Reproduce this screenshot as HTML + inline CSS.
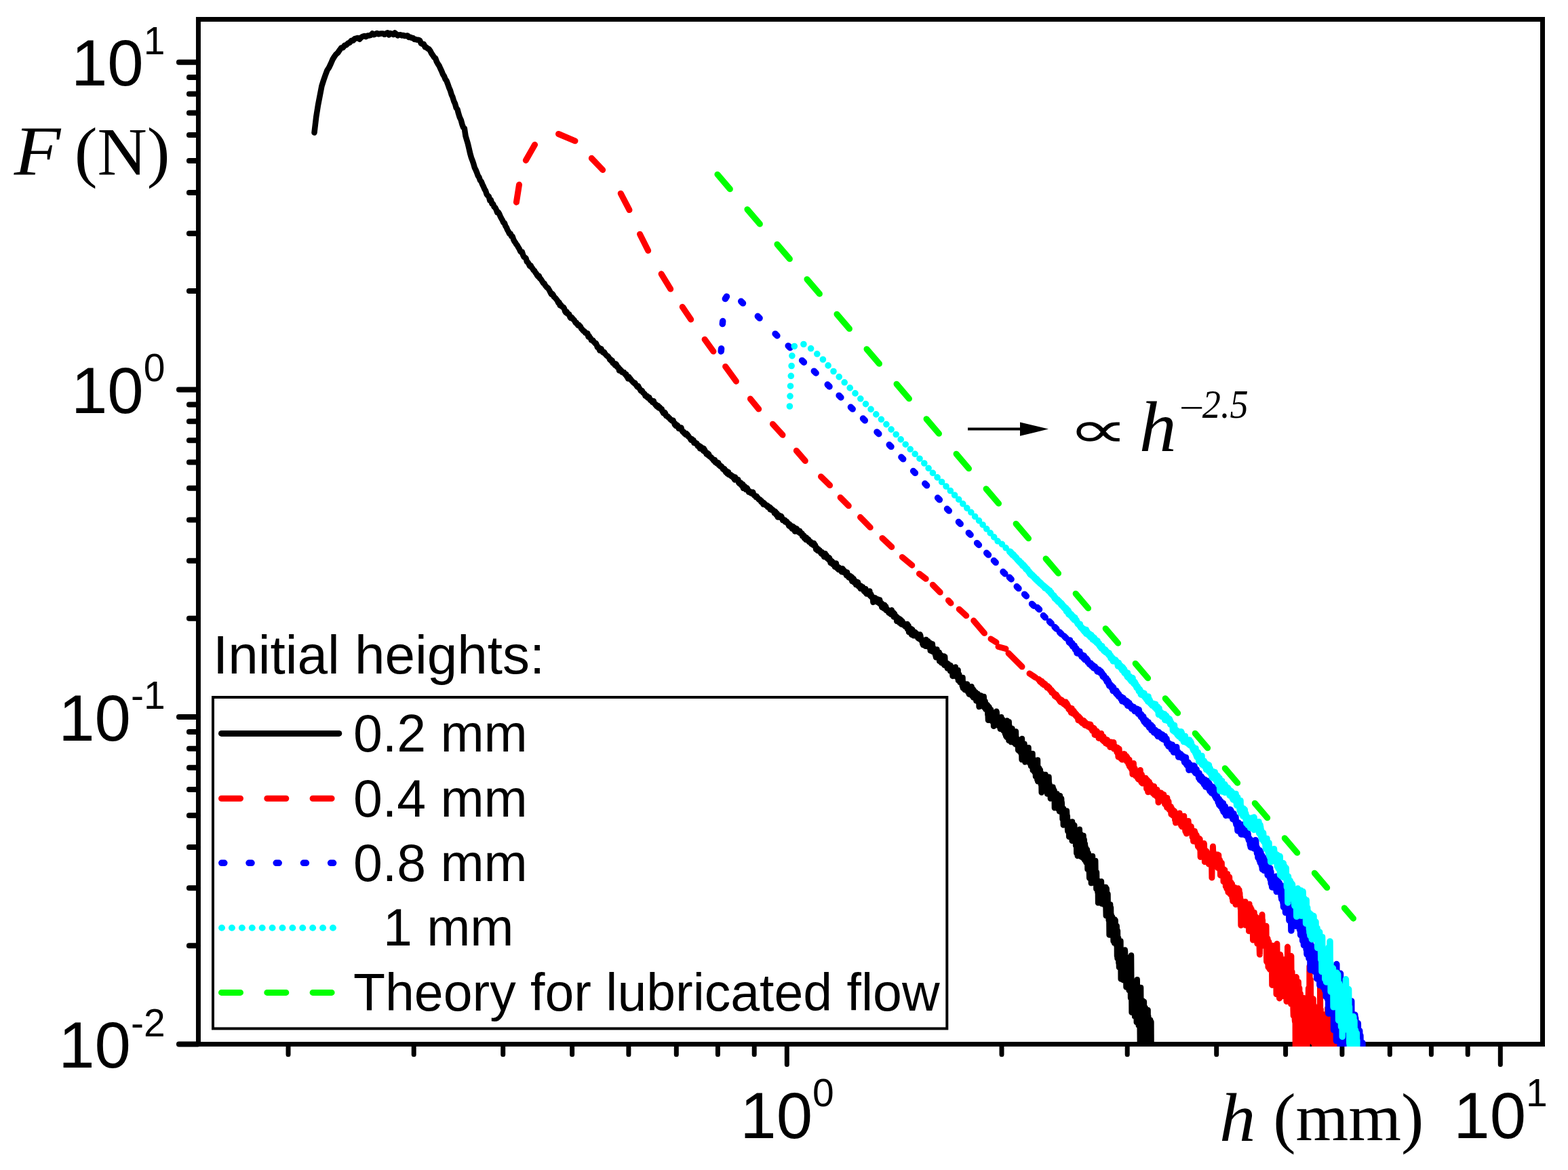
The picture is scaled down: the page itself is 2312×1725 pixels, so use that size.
<!DOCTYPE html>
<html lang="en"><head><meta charset="utf-8"><title>F(h) squeeze flow</title>
<style>html,body{margin:0;padding:0;background:#fff}body{width:2312px;height:1725px;overflow:hidden}svg{display:block}.s{font-family:"Liberation Sans", Arial, sans-serif;fill:#000}.t{font-family:"Liberation Serif", "Times New Roman", serif;fill:#000}.i{font-style:italic}</style></head><body>
<svg width="2312" height="1725" viewBox="0 0 2312 1725">
<rect width="2312" height="1725" fill="#fff"/>
<defs><clipPath id="cp"><rect x="292.45" y="28.5" width="1982.05" height="1514.5"/></clipPath></defs>
<g stroke="#000" stroke-width="7" fill="none" stroke-linecap="round">
<rect x="292.45" y="28.5" width="1982.05" height="1511.0"/>
<line stroke-width="8" x1="291.45" y1="1539.5" x2="263.9" y2="1539.5"/>
<line stroke-width="8" x1="291.45" y1="1394.3" x2="278.9" y2="1394.3"/>
<line stroke-width="8" x1="291.45" y1="1309.3" x2="278.9" y2="1309.3"/>
<line stroke-width="8" x1="291.45" y1="1249.0" x2="278.9" y2="1249.0"/>
<line stroke-width="8" x1="291.45" y1="1202.2" x2="278.9" y2="1202.2"/>
<line stroke-width="8" x1="291.45" y1="1164.0" x2="278.9" y2="1164.0"/>
<line stroke-width="8" x1="291.45" y1="1131.7" x2="278.9" y2="1131.7"/>
<line stroke-width="8" x1="291.45" y1="1103.7" x2="278.9" y2="1103.7"/>
<line stroke-width="8" x1="291.45" y1="1079.1" x2="278.9" y2="1079.1"/>
<line stroke-width="8" x1="291.45" y1="1057.0" x2="263.9" y2="1057.0"/>
<line stroke-width="8" x1="291.45" y1="911.7" x2="278.9" y2="911.7"/>
<line stroke-width="8" x1="291.45" y1="826.7" x2="278.9" y2="826.7"/>
<line stroke-width="8" x1="291.45" y1="766.4" x2="278.9" y2="766.4"/>
<line stroke-width="8" x1="291.45" y1="719.7" x2="278.9" y2="719.7"/>
<line stroke-width="8" x1="291.45" y1="681.5" x2="278.9" y2="681.5"/>
<line stroke-width="8" x1="291.45" y1="649.2" x2="278.9" y2="649.2"/>
<line stroke-width="8" x1="291.45" y1="621.2" x2="278.9" y2="621.2"/>
<line stroke-width="8" x1="291.45" y1="596.5" x2="278.9" y2="596.5"/>
<line stroke-width="8" x1="291.45" y1="574.4" x2="263.9" y2="574.4"/>
<line stroke-width="8" x1="291.45" y1="429.1" x2="278.9" y2="429.1"/>
<line stroke-width="8" x1="291.45" y1="344.2" x2="278.9" y2="344.2"/>
<line stroke-width="8" x1="291.45" y1="283.9" x2="278.9" y2="283.9"/>
<line stroke-width="8" x1="291.45" y1="237.1" x2="278.9" y2="237.1"/>
<line stroke-width="8" x1="291.45" y1="198.9" x2="278.9" y2="198.9"/>
<line stroke-width="8" x1="291.45" y1="166.6" x2="278.9" y2="166.6"/>
<line stroke-width="8" x1="291.45" y1="138.6" x2="278.9" y2="138.6"/>
<line stroke-width="8" x1="291.45" y1="113.9" x2="278.9" y2="113.9"/>
<line stroke-width="8" x1="291.45" y1="91.8" x2="263.9" y2="91.8"/>
<line x1="425.0" y1="1540.5" x2="425.0" y2="1554.7"/>
<line x1="610.2" y1="1540.5" x2="610.2" y2="1554.7"/>
<line x1="741.7" y1="1540.5" x2="741.7" y2="1554.7"/>
<line x1="843.6" y1="1540.5" x2="843.6" y2="1554.7"/>
<line x1="926.9" y1="1540.5" x2="926.9" y2="1554.7"/>
<line x1="997.3" y1="1540.5" x2="997.3" y2="1554.7"/>
<line x1="1058.4" y1="1540.5" x2="1058.4" y2="1554.7"/>
<line x1="1112.2" y1="1540.5" x2="1112.2" y2="1554.7"/>
<line x1="1160.3" y1="1540.5" x2="1160.3" y2="1569.6"/>
<line x1="1477.0" y1="1540.5" x2="1477.0" y2="1554.7"/>
<line x1="1662.2" y1="1540.5" x2="1662.2" y2="1554.7"/>
<line x1="1793.7" y1="1540.5" x2="1793.7" y2="1554.7"/>
<line x1="1895.6" y1="1540.5" x2="1895.6" y2="1554.7"/>
<line x1="1978.9" y1="1540.5" x2="1978.9" y2="1554.7"/>
<line x1="2049.3" y1="1540.5" x2="2049.3" y2="1554.7"/>
<line x1="2110.4" y1="1540.5" x2="2110.4" y2="1554.7"/>
<line x1="2164.2" y1="1540.5" x2="2164.2" y2="1554.7"/>
<line x1="2212.3" y1="1540.5" x2="2212.3" y2="1569.6"/>
</g>
<g clip-path="url(#cp)" fill="none" stroke-linecap="round" stroke-linejoin="round">
<polyline stroke="#000" stroke-width="8.5" points="463.5,195.6 466.3,171.8 469.0,154.9 471.7,140.9 474.4,126.9 477.1,118.4 479.8,110.7 482.5,103.5 485.1,99.6 487.7,94.1 490.4,87.8 493.0,83.5 495.5,80.1 498.1,77.8 500.7,73.9 503.2,70.5 505.7,70.2 508.2,66.9 510.7,66.3 513.2,63.8 515.7,62.8 518.2,59.8 520.6,59.8 523.0,57.2 525.5,56.5 527.9,56.0 530.3,57.7 532.7,55.0 535.0,53.8 537.4,53.0 539.7,54.1 542.1,52.4 544.4,52.4 546.7,51.8 549.0,49.5 551.3,51.2 553.6,50.1 555.8,49.0 558.1,50.3 560.3,49.7 562.5,49.4 564.8,49.4 567.0,50.8 569.2,49.5 571.4,48.3 573.5,51.5 575.7,49.1 577.9,50.0 580.0,51.0 582.1,48.5 584.3,50.1 586.4,52.4 588.5,51.4 590.6,51.3 592.7,52.4 594.8,51.9 596.8,53.1 598.9,52.8 600.9,52.4 603.0,55.1 605.0,54.7 607.0,55.9 609.0,55.9 611.1,58.0 613.0,58.1 615.0,58.7 617.0,58.7 619.0,59.8 620.9,63.9 622.9,64.9 624.8,65.1 626.8,69.6 628.7,69.8 630.6,71.5 632.5,72.3 634.5,75.2 636.3,78.8 638.2,81.5 640.1,84.4 642.0,85.7 643.9,91.0 645.7,94.3 647.6,97.0 649.4,101.1 651.2,104.9 653.1,109.6 654.9,112.4 656.7,116.8 658.5,119.3 660.3,124.1 662.1,129.2 663.9,133.2 665.7,139.4 667.4,143.1 669.2,149.1 671.0,152.9 672.7,159.0 674.5,161.3 676.2,167.8 677.9,173.2 679.7,176.8 681.4,183.2 683.1,187.9 684.8,189.1 686.5,200.5 688.2,206.3 689.9,212.0 691.5,218.8 693.2,226.3 694.9,232.2 696.5,236.4 698.2,241.3 699.9,247.4 701.5,250.5 703.1,254.3 704.8,259.2 706.4,261.3 708.0,266.0 709.6,267.5 711.2,271.6 712.8,274.9 714.4,278.7 716.0,281.3 717.6,286.3 719.2,288.4 720.8,289.8 722.3,295.4 723.9,295.1 725.5,300.6 727.0,300.7 728.6,305.1 730.1,305.9 731.7,309.1 733.2,313.3 734.7,312.9 736.2,315.2 737.8,319.3 739.3,322.1 740.8,324.6 742.3,328.2 743.8,328.7 745.3,333.2 746.8,335.4 748.2,338.9 749.7,341.4 751.2,344.6 752.7,344.4 754.1,348.3 755.6,348.5 757.0,352.8 758.5,355.9 759.9,357.7 761.4,360.3 762.8,361.9 764.2,364.6 765.7,366.8 767.1,370.2 768.5,371.9 769.9,371.6 771.3,376.3 772.7,379.0 774.1,379.7 775.5,380.8 776.9,385.9 778.3,386.7 779.7,389.1 781.1,392.2 782.5,391.4 783.8,394.1 785.2,395.7 786.6,398.4 787.9,398.9 789.3,401.7 790.6,403.0 792.0,405.8 793.3,407.6 794.7,406.7 796.0,410.4 797.3,411.3 798.7,413.4 800.0,415.6 801.3,417.5 802.6,418.0 803.9,420.8 805.2,422.3 806.6,423.9 807.9,424.4 809.2,426.6 810.4,428.6 811.7,431.3 813.0,433.9 814.3,433.1 815.6,434.8 816.9,437.7 818.1,438.6 819.4,440.0 820.7,441.6 821.9,443.2 823.2,446.2 824.4,445.7 825.7,450.2 826.9,449.5 828.2,451.4 829.4,452.5 830.7,452.8 831.9,454.7 833.1,458.9 834.4,460.8 835.6,459.5 836.8,462.8 838.0,463.0 839.2,463.4 840.4,467.4 841.7,469.1 842.9,467.8 844.1,469.3 845.3,470.9 846.5,471.8 847.7,474.0 848.8,476.0 850.0,475.8 851.2,477.9 852.4,479.9 853.6,478.9 854.7,480.8 855.9,481.6 857.1,484.4 858.2,485.3 859.4,487.0 860.6,488.2 861.7,488.3 862.9,490.7 864.0,490.8 865.2,492.1 866.3,491.6 867.5,496.5 868.6,495.3 869.7,497.6 870.9,498.8 872.0,501.6 873.1,501.8 874.3,501.7 875.4,503.8 876.5,504.8 877.6,506.4 878.7,506.0 879.8,508.5 880.9,512.0 882.1,511.6 883.2,514.1 884.3,516.7 885.4,514.9 886.4,514.1 887.5,516.6 888.6,519.1 889.7,520.0 890.8,519.0 891.9,521.2 893.0,522.5 894.0,523.7 895.1,524.8 896.2,525.1 897.3,526.5 898.3,528.0 899.4,530.5 900.5,530.0 901.5,532.4 902.6,531.5 903.6,535.2 904.7,535.1 905.7,536.0 906.8,538.5 907.8,536.3 908.9,537.6 909.9,540.8 910.9,540.5 912.0,542.0 913.0,546.3 914.0,544.2 915.1,545.6 916.1,546.4 917.1,548.7 918.1,548.9 919.2,549.8 920.2,549.3 921.2,551.2 922.2,552.5 923.2,551.8 924.2,555.1 925.2,555.9 926.2,558.4 927.2,555.6 928.2,557.2 929.2,558.2 930.2,559.5 931.2,561.0 932.2,561.9 933.2,563.3 934.2,564.2 935.2,564.9 936.1,564.3 937.1,566.3 938.1,568.0 939.1,569.5 940.1,570.6 941.0,569.1 942.0,571.4 943.0,572.9 943.9,574.3 944.9,576.2 945.9,576.1 946.8,576.0 947.8,578.5 948.7,579.3 949.7,580.3 950.6,580.9 951.6,583.8 952.5,583.3 953.5,584.9 954.4,584.0 955.4,586.7 956.3,586.1 957.2,586.0 958.2,588.9 959.1,590.1 960.0,590.0 961.0,591.0 961.9,593.0 962.8,592.2 963.7,591.3 964.7,594.6 965.6,595.4 966.5,597.1 967.4,596.5 968.3,599.1 969.3,599.8 970.2,598.0 971.1,601.3 972.0,600.0 972.9,600.5 973.8,602.8 974.7,603.4 975.6,602.8 976.5,606.2 977.4,607.5 978.3,609.3 979.2,608.7 980.1,608.0 981.0,609.5 981.9,612.6 982.7,613.4 983.6,613.9 984.5,613.8 985.4,615.3 986.3,615.7 987.1,616.4 988.0,618.0 988.9,618.5 989.8,619.1 990.6,620.3 991.5,620.4 992.4,619.7 993.2,622.0 994.1,623.4 995.0,626.3 995.8,624.7 996.7,628.2 997.6,628.4 998.4,626.6 999.3,627.6 1000.1,629.4 1001.0,632.0 1001.8,631.3 1002.7,632.4 1003.5,631.7 1004.4,630.6 1005.2,633.8 1006.1,635.7 1006.9,636.9 1007.7,636.4 1008.6,637.4 1009.4,639.3 1010.2,638.6 1011.1,640.9 1011.9,639.0 1012.7,639.9 1013.6,640.6 1014.4,643.2 1015.2,642.8 1016.0,644.4 1016.9,645.4 1017.7,646.1 1018.5,648.0 1019.3,649.0 1020.1,647.1 1021.0,649.0 1021.8,649.3 1022.6,649.2 1023.4,653.1 1024.2,652.8 1025.0,652.4 1025.8,652.9 1026.6,654.6 1027.4,653.7 1028.2,655.4 1029.0,657.8 1029.8,658.2 1030.6,656.9 1031.4,658.0 1032.2,661.5 1033.0,658.4 1033.8,659.2 1034.6,659.8 1035.4,662.5 1036.2,663.1 1037.0,664.8 1037.8,661.1 1038.5,665.0 1039.3,663.6 1040.1,667.0 1040.9,666.7 1041.7,669.6 1042.4,668.8 1043.2,667.9 1044.0,671.2 1044.8,669.2 1045.5,670.8 1046.3,673.1 1047.1,673.2 1047.8,673.9 1048.6,674.1 1049.4,675.4 1050.1,676.5 1050.9,676.6 1051.7,678.2 1052.4,679.3 1053.2,678.5 1054.0,678.1 1054.7,681.8 1055.5,680.6 1056.2,682.1 1057.0,683.2 1057.7,681.7 1058.5,684.1 1059.2,682.3 1060.0,685.8 1060.7,685.1 1061.5,686.5 1062.2,687.8 1063.0,686.9 1063.7,688.5 1064.4,688.2 1065.2,689.7 1065.9,691.6 1066.7,691.1 1067.4,691.6 1068.1,691.2 1068.9,694.1 1069.6,693.7 1070.3,696.4 1071.1,694.2 1071.8,696.9 1072.5,698.5 1073.2,696.9 1074.0,696.1 1074.7,699.9 1075.4,700.0 1076.1,700.2 1076.9,701.2 1077.6,699.9 1078.3,702.0 1079.0,702.5 1079.7,701.4 1080.5,703.7 1081.2,702.8 1081.9,705.1 1082.6,706.0 1083.3,707.4 1084.0,703.4 1084.7,706.7 1085.4,706.6 1086.1,707.5 1086.8,707.9 1087.5,708.6 1088.3,707.0 1089.0,711.2 1089.7,712.5 1090.4,712.5 1091.1,713.5 1091.8,711.5 1092.5,712.1 1093.1,715.0 1093.8,716.1 1094.5,715.5 1095.2,713.9 1095.9,719.8 1096.6,716.2 1097.3,718.9 1098.0,716.8 1098.7,720.1 1099.4,719.6 1100.0,721.8 1100.7,721.7 1101.4,719.3 1102.1,720.5 1102.8,722.6 1103.5,723.8 1104.1,725.6 1104.8,724.2 1105.5,724.4 1106.2,724.9 1106.8,725.5 1107.5,727.3 1108.2,726.5 1108.9,727.0 1109.5,725.8 1110.2,725.6 1110.9,728.7 1111.6,730.0 1112.2,729.7 1112.9,730.9 1113.6,731.6 1114.2,731.3 1114.9,733.2 1115.5,731.6 1116.2,733.1 1116.9,733.2 1117.5,734.3 1118.2,735.6 1118.8,736.5 1119.5,736.1 1120.2,737.1 1120.8,736.6 1121.5,737.5 1122.1,739.8 1122.8,738.5 1123.4,740.9 1124.1,740.5 1124.7,740.6 1125.4,743.5 1126.0,741.1 1126.7,741.6 1127.3,742.5 1128.0,743.4 1128.6,743.8 1129.2,745.1 1129.9,744.7 1130.5,745.6 1131.2,745.2 1131.8,747.5 1132.4,746.1 1133.1,746.7 1133.7,747.6 1134.4,748.5 1135.0,747.7 1135.6,751.2 1136.3,748.9 1136.9,749.8 1137.5,750.3 1138.2,750.7 1138.8,752.6 1139.4,752.7 1140.0,752.1 1140.7,752.9 1141.3,753.8 1141.9,756.7 1142.5,754.5 1143.2,754.2 1143.8,755.0 1144.4,756.6 1145.0,759.6 1145.7,756.8 1146.3,758.8 1146.9,762.6 1147.5,759.2 1148.1,762.3 1148.7,762.5 1149.4,762.2 1150.0,760.1 1150.6,762.8 1151.2,762.5 1151.8,761.0 1152.4,761.7 1153.0,764.6 1153.6,765.3 1154.2,767.2 1154.9,766.9 1155.5,765.9 1156.1,766.5 1156.7,767.4 1157.3,766.7 1157.9,769.6 1158.5,769.1 1159.1,768.6 1159.7,769.3 1160.3,769.1 1160.9,770.5 1161.5,772.0 1162.1,771.5 1162.7,773.9 1163.3,775.3 1163.9,772.6 1164.5,773.9 1165.1,773.9 1165.7,777.1 1166.3,775.7 1166.9,776.5 1167.4,777.3 1168.0,779.7 1168.6,777.4 1169.2,776.1 1169.8,777.3 1170.4,779.1 1171.0,778.8 1171.6,778.1 1172.1,783.6 1172.7,780.5 1173.3,779.9 1173.9,780.1 1174.5,779.2 1175.1,780.4 1175.6,782.1 1176.2,782.6 1176.8,782.4 1177.4,784.7 1178.0,784.5 1178.5,783.7 1179.1,782.7 1179.7,786.2 1180.3,786.5 1180.8,786.7 1181.4,785.5 1182.0,788.0 1182.6,786.4 1183.1,790.4 1183.7,789.7 1184.3,790.3 1184.8,789.3 1185.4,789.5 1186.0,793.7 1186.5,793.3 1187.1,792.0 1187.7,793.9 1188.2,795.7 1188.8,792.4 1189.4,793.7 1189.9,794.2 1190.5,796.1 1191.1,794.4 1191.6,796.7 1192.2,795.3 1192.7,798.7 1193.3,799.1 1193.9,798.1 1194.4,799.9 1195.0,798.4 1195.5,799.5 1196.1,801.8 1196.6,800.8 1197.2,801.9 1197.7,800.6 1198.3,803.4 1198.8,803.6 1199.4,801.7 1199.9,800.7 1200.5,801.5 1201.0,804.9 1201.6,805.2 1202.1,803.8 1202.7,806.8 1203.2,810.1 1203.8,807.5 1204.3,807.6 1204.9,810.0 1205.4,811.8 1206.0,812.1 1206.5,809.4 1207.0,812.1 1207.6,811.7 1208.1,811.7 1208.7,811.6 1209.2,813.6 1209.8,812.8 1210.3,815.5 1210.8,815.1 1211.4,816.7 1211.9,813.9 1212.4,816.1 1213.0,817.7 1213.5,817.6 1214.0,817.9 1214.6,817.0 1215.1,821.0 1215.6,820.6 1216.2,820.1 1216.7,816.1 1217.2,819.0 1217.8,821.1 1218.3,820.3 1218.8,818.7 1219.3,822.7 1219.9,823.4 1220.4,821.4 1220.9,823.0 1221.5,823.1 1222.0,825.4 1222.5,822.1 1223.0,822.8 1223.5,825.0 1224.1,825.3 1224.6,830.0 1225.1,826.2 1225.6,827.9 1226.2,827.4 1226.7,827.4 1227.2,829.4 1227.7,832.0 1228.2,829.2 1228.7,831.4 1229.3,831.2 1229.8,832.0 1230.3,832.1 1230.8,835.7 1231.3,830.5 1231.8,832.4 1232.3,831.5 1232.9,830.6 1233.4,834.1 1233.9,837.5 1234.4,836.4 1234.9,837.4 1235.4,836.6 1235.9,836.1 1236.4,839.9 1236.9,836.5 1237.4,839.9 1238.0,837.4 1238.5,838.5 1239.0,839.2 1239.5,839.2 1240.0,840.4 1240.5,841.0 1241.0,843.2 1241.5,840.8 1242.0,838.2 1242.5,838.4 1243.0,839.9 1243.5,841.3 1244.0,844.0 1244.5,841.0 1245.0,843.9 1245.5,844.3 1246.0,845.1 1246.5,845.0 1247.0,846.3 1247.5,846.1 1248.0,848.3 1248.5,847.5 1249.0,843.6 1249.5,847.9 1250.0,848.6 1250.4,847.8 1250.9,847.9 1251.4,851.4 1251.9,850.3 1252.4,848.8 1252.9,850.3 1253.4,851.0 1253.9,849.0 1254.4,853.2 1254.9,852.3 1255.3,853.7 1255.8,850.7 1256.3,856.9 1256.8,855.1 1257.3,855.3 1257.8,853.6 1258.3,854.1 1258.7,853.2 1259.2,858.7 1259.7,855.1 1260.2,857.3 1260.7,858.4 1261.2,856.7 1261.6,859.7 1262.1,862.1 1262.6,859.6 1263.1,862.0 1263.6,860.9 1264.0,859.6 1264.5,860.1 1265.0,858.3 1265.5,861.9 1265.9,864.6 1266.4,863.7 1266.9,864.4 1267.4,865.4 1267.9,862.9 1268.3,865.2 1268.8,868.0 1269.3,863.7 1269.7,865.5 1270.2,865.1 1270.7,866.0 1271.2,865.5 1271.6,867.0 1272.1,865.3 1272.6,867.1 1273.0,867.6 1273.5,867.3 1274.0,871.8 1274.4,869.9 1274.9,870.5 1275.4,870.0 1275.8,873.3 1276.3,868.3 1276.8,871.4 1277.2,874.2 1277.7,875.5 1278.2,873.3 1278.6,873.3 1279.1,874.8 1279.6,873.7 1280.0,875.4 1280.5,873.6 1280.9,876.3 1281.4,875.4 1281.9,873.9 1282.3,871.4 1282.8,878.3 1283.2,877.6 1283.7,878.7 1284.2,876.1 1284.6,880.0 1285.1,879.1 1285.5,878.6 1286.0,880.8 1286.4,881.1 1286.9,880.6 1287.4,888.0 1287.8,883.2 1288.3,881.6 1288.7,881.0 1289.2,882.0 1289.6,885.4 1290.1,883.4 1290.5,881.4 1291.0,882.3 1291.4,883.9 1291.9,885.9 1292.3,883.4 1292.8,886.1 1293.2,887.7 1293.7,887.4 1294.1,883.6 1294.6,886.3 1295.0,884.9 1295.5,888.5 1295.9,886.2 1296.4,889.5 1296.8,889.1 1297.2,884.5 1297.7,888.1 1298.1,890.9 1298.6,890.5 1299.0,890.2 1299.5,888.9 1299.9,892.6 1300.3,895.4 1300.8,893.0 1301.2,892.9 1301.7,893.1 1302.1,891.2 1302.6,893.6 1303.0,893.1 1303.4,897.3 1303.9,893.8 1304.3,891.9 1304.7,894.9 1305.2,896.3 1305.6,896.9 1306.1,894.1 1306.5,899.9 1306.9,898.7 1307.4,897.9 1307.8,897.7 1308.2,900.4 1308.7,899.2 1309.1,900.8 1309.5,900.3 1310.0,901.1 1310.4,903.5 1310.8,901.5 1311.3,900.0 1311.7,904.1 1312.1,902.9 1312.6,901.3 1313.0,905.2 1313.4,902.9 1313.8,905.8 1314.3,901.6 1314.7,899.5 1315.1,900.4 1315.6,905.4 1316.0,903.7 1316.4,905.4 1316.8,905.8 1317.3,903.1 1317.7,909.6 1318.1,904.9 1318.5,907.6 1319.0,904.9 1319.4,907.9 1319.8,910.2 1320.2,908.5 1320.7,908.0 1321.1,909.9 1321.5,909.3 1321.9,912.0 1322.3,916.0 1322.8,909.7 1323.2,910.6 1323.6,912.2 1324.0,912.8 1324.4,911.1 1324.9,914.8 1325.3,915.8 1325.7,915.0 1326.1,912.3 1326.5,918.5 1327.0,913.1 1327.4,917.6 1327.8,919.0 1328.2,913.9 1328.6,917.4 1329.0,920.5 1329.4,918.6 1329.9,916.0 1330.3,915.7 1330.7,919.8 1331.1,918.2 1331.5,917.8 1331.9,921.3 1332.3,919.4 1332.7,920.6 1333.2,922.2 1333.6,922.5 1334.0,921.6 1334.4,922.1 1334.8,923.9 1335.2,924.0 1335.6,920.7 1336.0,923.3 1336.4,922.1 1336.8,921.7 1337.3,923.6 1337.7,919.9 1338.1,927.7 1338.5,924.1 1338.9,927.2 1339.3,922.2 1339.7,922.9 1340.1,932.2 1340.5,930.0 1340.9,926.2 1341.3,926.2 1341.7,926.6 1342.1,929.0 1342.5,927.8 1342.9,927.6 1343.3,929.7 1343.7,927.2 1344.1,935.8 1344.5,928.8 1344.9,933.4 1345.3,928.6 1345.7,932.0 1346.1,934.0 1346.5,931.2 1346.9,937.2 1347.3,935.2 1347.7,937.3 1348.1,933.7 1348.5,932.8 1348.9,931.8 1349.3,935.2 1349.7,932.5 1350.1,935.5 1350.5,936.1 1350.9,934.7 1351.3,933.8 1351.7,937.8 1352.1,937.8 1352.5,937.9 1352.9,937.6 1353.3,940.5 1353.7,935.7 1354.1,939.8 1354.4,937.8 1354.8,941.6 1355.2,938.8 1355.6,939.0 1356.0,941.6 1356.4,935.4 1356.8,940.2 1357.2,936.8 1357.6,939.3 1358.0,944.1 1358.4,943.7 1358.7,941.8 1359.1,943.2 1359.5,943.5 1359.9,944.7 1360.3,949.3 1360.7,945.1 1361.1,951.0 1361.5,943.9 1361.8,947.2 1362.2,947.4 1362.6,946.3 1363.0,945.1 1363.4,950.2 1363.8,951.4 1364.2,949.7 1364.5,952.8 1364.9,950.0 1365.3,943.1 1365.7,951.0 1366.1,946.4 1366.5,952.6 1366.8,948.1 1367.2,950.2 1367.6,949.8 1368.0,948.3 1368.4,945.3 1368.7,950.1 1369.1,950.6 1369.5,954.2 1369.9,950.0 1370.3,952.8 1370.6,950.0 1371.0,952.9 1371.4,948.0 1371.8,959.5 1372.2,954.8 1372.5,951.7 1372.9,955.8 1373.3,957.5 1373.7,956.4 1374.0,960.2 1374.4,956.0 1374.8,949.5 1375.2,953.8 1375.5,961.1 1375.9,960.7 1376.3,959.7 1376.7,955.7 1377.0,961.8 1377.4,961.7 1377.8,957.2 1378.2,957.6 1378.5,961.9 1378.9,964.6 1379.3,966.3 1379.6,964.0 1380.0,969.3 1380.4,960.1 1380.8,964.8 1381.1,961.6 1381.5,957.6 1381.9,960.1 1382.2,967.9 1382.6,961.7 1383.0,961.2 1383.3,967.6 1383.7,968.7 1384.1,966.3 1384.4,971.6 1384.8,961.9 1385.2,975.0 1385.5,971.0 1385.9,968.6 1386.3,968.9 1386.6,967.9 1387.0,968.0 1387.4,970.0 1387.7,965.9 1388.1,977.4 1388.5,970.5 1388.8,973.4 1389.2,971.0 1389.6,971.2 1389.9,975.5 1390.3,975.1 1390.7,970.7 1391.0,972.7 1391.4,976.7 1391.7,968.0 1392.1,967.6 1392.5,981.0 1392.8,975.4 1393.2,968.4 1393.5,974.6 1393.9,977.0 1394.3,978.9 1394.6,980.5 1395.0,979.8 1395.3,981.4 1395.7,977.3 1396.1,983.1 1396.4,982.2 1396.8,985.3 1397.1,981.6 1397.5,985.0 1397.8,982.8 1398.2,978.9 1398.6,981.7 1398.9,981.6 1399.3,982.5 1399.6,983.9 1400.0,984.9 1400.3,985.9 1400.7,982.5 1401.0,989.4 1401.4,981.1 1401.8,986.1 1402.1,989.2 1402.5,988.6 1402.8,989.5 1403.2,986.8 1403.5,990.3 1403.9,983.9 1404.2,991.0 1404.6,996.9 1404.9,991.4 1405.3,996.5 1405.6,989.5 1406.0,985.8 1406.3,987.6 1406.7,995.2 1407.0,993.4 1407.4,984.5 1407.7,990.1 1408.1,991.5 1408.4,988.1 1408.8,983.4 1409.1,987.9 1409.5,992.4 1409.8,992.0 1410.2,991.4 1410.5,996.3 1410.9,998.4 1411.2,994.7 1411.6,998.8 1411.9,995.9 1412.2,995.7 1412.6,987.9 1412.9,1003.2 1413.3,997.6 1413.6,998.2 1414.0,996.3 1414.3,994.5 1414.7,1000.6 1415.0,1002.3 1415.3,1005.9 1415.7,1003.5 1416.0,998.4 1416.4,1000.7 1416.7,1005.2 1417.1,1003.2 1417.4,1002.1 1417.7,1000.8 1418.1,1005.5 1418.4,1004.7 1418.8,1011.4 1419.1,1009.3 1419.5,999.1 1419.8,1014.5 1420.1,1007.6 1420.5,1006.0 1420.8,1008.8 1421.2,1011.0 1421.5,1008.5 1421.8,1008.8 1422.2,1009.6 1422.5,1017.2 1422.8,1010.7 1423.2,1014.0 1423.5,1013.2 1423.9,1010.5 1424.2,1009.3 1424.5,1008.7 1424.9,1014.6 1425.2,1009.3 1425.5,1008.7 1425.9,1009.2 1426.2,1008.6 1426.5,1015.0 1426.9,1015.5 1427.2,1011.8 1427.5,1021.0 1427.9,1014.9 1428.2,1018.2 1428.6,1017.8 1428.9,1023.7 1429.2,1020.4 1429.6,1017.1 1429.9,1013.6 1430.2,1013.4 1430.5,1018.0 1430.9,1018.7 1431.2,1021.6 1431.5,1016.8 1431.9,1019.7 1432.2,1016.5 1432.5,1012.2 1432.9,1019.7 1433.2,1026.1 1433.5,1023.8 1433.9,1026.7 1434.2,1026.0 1434.5,1016.0 1434.8,1020.8 1435.2,1028.5 1435.5,1019.8 1435.8,1017.8 1436.2,1024.8 1436.5,1026.6 1436.8,1025.5 1437.1,1023.3 1437.5,1022.2 1437.8,1020.3 1438.1,1020.6 1438.5,1021.0 1438.8,1020.6 1439.1,1023.8 1439.4,1033.5 1439.8,1027.8 1440.1,1026.3 1440.4,1029.5 1440.7,1024.4 1441.1,1030.1 1441.4,1032.8 1441.7,1023.1 1442.0,1026.7 1442.4,1028.9 1442.7,1026.3 1443.0,1026.0 1443.3,1029.4 1443.6,1042.1 1444.0,1034.6 1444.3,1034.0 1444.6,1036.7 1444.9,1031.9 1445.3,1028.0 1445.6,1035.6 1445.9,1038.9 1446.2,1025.6 1446.5,1036.6 1446.9,1040.4 1447.2,1034.3 1447.5,1033.8 1447.8,1039.2 1448.1,1033.0 1448.5,1041.1 1448.8,1041.2 1449.1,1036.7 1449.4,1034.5 1449.7,1041.0 1450.1,1037.1 1450.4,1039.4 1450.7,1027.1 1451.0,1042.9 1451.3,1034.1 1451.6,1040.8 1452.0,1041.5 1452.3,1038.2 1452.6,1033.9 1452.9,1036.6 1453.2,1041.2 1453.5,1045.9 1453.9,1046.0 1454.2,1041.7 1454.5,1041.8 1454.8,1038.6 1455.1,1043.5 1455.4,1041.0 1455.8,1039.4 1456.1,1046.0 1456.4,1054.2 1456.7,1053.2 1457.0,1061.9 1457.3,1041.4 1457.6,1053.1 1457.9,1044.0 1458.3,1047.4 1458.6,1042.7 1458.9,1046.4 1459.2,1052.0 1459.5,1052.9 1459.8,1051.9 1460.1,1051.9 1460.4,1055.7 1460.8,1053.7 1461.1,1046.4 1461.4,1062.5 1461.7,1053.4 1462.0,1059.3 1462.3,1054.4 1462.6,1051.6 1462.9,1056.2 1463.2,1052.6 1463.5,1064.3 1463.9,1051.6 1464.2,1060.0 1464.5,1054.5 1464.8,1056.8 1465.1,1070.8 1465.4,1062.0 1465.7,1057.5 1466.0,1051.5 1466.3,1057.7 1466.6,1058.2 1466.9,1066.6 1467.2,1053.1 1467.5,1051.6 1467.9,1060.4 1468.2,1061.8 1468.5,1069.1 1468.8,1057.1 1469.1,1048.8 1469.4,1058.4 1469.7,1050.1 1470.0,1059.8 1470.3,1067.5 1470.6,1056.4 1470.9,1069.2 1471.2,1064.3 1471.5,1062.1 1471.8,1059.3 1472.1,1061.7 1472.4,1062.0 1472.7,1067.9 1473.0,1070.7 1473.3,1064.1 1473.6,1068.1 1473.9,1071.3 1474.2,1071.3 1474.5,1067.6 1474.8,1074.8 1475.1,1072.5 1475.4,1074.2 1475.7,1065.4 1476.0,1064.6 1476.3,1057.2 1476.6,1074.9 1476.9,1071.1 1477.2,1063.5 1477.5,1069.5 1477.8,1070.4 1478.1,1060.7 1478.4,1071.1 1478.7,1075.7 1479.0,1076.8 1479.3,1068.7 1479.6,1069.1 1479.9,1078.0 1480.2,1076.3 1480.5,1068.8 1480.8,1068.8 1481.1,1075.3 1481.4,1069.2 1481.7,1069.7 1482.0,1082.2 1482.3,1074.8 1482.6,1071.4 1482.9,1076.7 1483.2,1085.4 1483.5,1075.9 1483.8,1070.9 1484.1,1067.0 1484.4,1087.0 1484.7,1062.5 1485.0,1081.9 1485.3,1071.3 1485.6,1070.2 1485.9,1071.8 1486.2,1076.3 1486.5,1083.5 1486.8,1074.4 1487.1,1081.7 1487.4,1091.9 1487.7,1064.2 1488.0,1075.2 1488.3,1069.8 1488.6,1084.3 1488.9,1072.2 1489.2,1071.9 1489.5,1072.5 1489.8,1081.0 1490.1,1087.7 1490.4,1082.6 1490.7,1094.1 1491.0,1091.7 1491.3,1082.3 1491.6,1088.6 1491.9,1084.5 1492.2,1084.6 1492.5,1074.3 1492.8,1077.9 1493.1,1085.4 1493.4,1079.2 1493.7,1090.2 1494.0,1088.2 1494.3,1081.9 1494.6,1094.0 1494.9,1089.1 1495.2,1095.3 1495.5,1087.7 1495.8,1080.0 1496.1,1093.2 1496.4,1088.2 1496.7,1094.8 1497.0,1096.6 1497.3,1097.5 1497.6,1083.0 1497.9,1078.6 1498.2,1089.0 1498.5,1096.1 1498.8,1088.6 1499.1,1094.8 1499.4,1088.9 1499.7,1092.2 1500.0,1092.7 1500.3,1091.4 1500.6,1098.5 1500.9,1098.0 1501.2,1106.2 1501.5,1099.3 1501.8,1105.5 1502.1,1098.6 1502.4,1103.8 1502.7,1098.2 1503.0,1096.6 1503.3,1107.9 1503.6,1104.7 1503.9,1105.9 1504.2,1096.5 1504.5,1091.6 1504.8,1096.6 1505.1,1103.8 1505.4,1093.8 1505.7,1111.3 1506.0,1094.3 1506.3,1106.9 1506.6,1120.1 1506.9,1089.0 1507.2,1095.3 1507.5,1110.7 1507.8,1104.1 1508.1,1106.8 1508.4,1105.5 1508.7,1115.4 1509.0,1111.2 1509.3,1105.0 1509.6,1107.0 1509.9,1102.0 1510.2,1109.1 1510.5,1096.7 1510.8,1115.0 1511.1,1109.8 1511.4,1123.6 1511.7,1120.1 1512.0,1105.2 1512.3,1119.2 1512.6,1110.8 1512.9,1114.8 1513.2,1121.2 1513.5,1117.3 1513.8,1118.7 1514.1,1118.8 1514.4,1111.7 1514.7,1112.5 1515.0,1120.2 1515.3,1122.5 1515.6,1115.4 1515.9,1117.9 1516.2,1111.4 1516.5,1102.2 1516.8,1112.9 1517.1,1118.3 1517.4,1119.4 1517.7,1123.9 1518.0,1124.5 1518.3,1125.4 1518.6,1122.0 1518.9,1122.6 1519.2,1116.0 1519.5,1123.4 1519.8,1122.7 1520.1,1129.7 1520.4,1112.8 1520.7,1120.2 1521.0,1113.2 1521.3,1119.8 1521.6,1116.3 1521.9,1127.6 1522.2,1122.2 1522.5,1111.1 1522.8,1135.8 1523.1,1121.3 1523.4,1118.8 1523.7,1127.2 1524.0,1125.6 1524.3,1123.0 1524.6,1135.8 1524.9,1129.4 1525.2,1138.3 1525.5,1137.6 1525.8,1137.7 1526.1,1135.0 1526.4,1133.6 1526.7,1132.0 1527.0,1144.9 1527.3,1123.1 1527.6,1128.7 1527.9,1131.8 1528.2,1139.3 1528.5,1137.9 1528.8,1134.0 1529.1,1135.3 1529.4,1149.8 1529.7,1133.8 1530.0,1120.4 1530.3,1152.1 1530.6,1133.3 1530.9,1137.8 1531.2,1141.4 1531.5,1132.1 1531.8,1149.8 1532.1,1141.1 1532.4,1133.1 1532.7,1144.6 1533.0,1146.8 1533.3,1143.8 1533.6,1148.2 1533.9,1135.5 1534.2,1152.8 1534.5,1141.3 1534.8,1156.7 1535.1,1143.9 1535.4,1149.9 1535.7,1168.5 1536.0,1150.4 1536.3,1158.5 1536.6,1154.5 1536.9,1141.3 1537.2,1160.2 1537.5,1160.2 1537.8,1143.0 1538.1,1152.4 1538.4,1142.8 1538.7,1151.3 1539.0,1160.1 1539.3,1154.4 1539.6,1145.6 1539.9,1147.7 1540.2,1154.4 1540.5,1154.2 1540.8,1155.6 1541.1,1159.1 1541.4,1142.1 1541.7,1155.5 1542.0,1164.0 1542.3,1159.6 1542.6,1151.5 1542.9,1152.4 1543.2,1158.2 1543.5,1162.4 1543.8,1157.8 1544.1,1170.5 1544.4,1168.1 1544.7,1153.3 1545.0,1162.6 1545.3,1156.7 1545.6,1151.1 1545.9,1155.2 1546.2,1159.9 1546.5,1145.6 1546.8,1155.7 1547.1,1163.2 1547.4,1155.8 1547.7,1158.3 1548.0,1167.7 1548.3,1161.4 1548.6,1163.5 1548.9,1177.4 1549.2,1165.7 1549.5,1165.8 1549.8,1167.5 1550.1,1177.1 1550.4,1168.1 1550.7,1166.4 1551.0,1166.0 1551.3,1175.8 1551.6,1163.4 1551.9,1177.7 1552.2,1170.9 1552.5,1160.4 1552.8,1175.5 1553.1,1174.7 1553.4,1163.6 1553.7,1174.8 1554.0,1174.6 1554.3,1171.3 1554.6,1165.8 1554.9,1191.2 1555.2,1180.9 1555.5,1182.9 1555.8,1184.1 1556.1,1183.0 1556.4,1183.6 1556.7,1175.6 1557.0,1185.5 1557.3,1178.4 1557.6,1177.1 1557.9,1186.5 1558.2,1180.6 1558.5,1170.2 1558.8,1180.6 1559.1,1188.8 1559.4,1184.9 1559.7,1192.3 1560.0,1183.5 1560.3,1179.5 1560.6,1193.0 1560.9,1188.6 1561.2,1178.8 1561.5,1191.6 1561.8,1186.5 1562.1,1196.5 1562.4,1195.1 1562.7,1193.0 1563.0,1173.2 1563.3,1192.8 1563.6,1194.1 1563.9,1194.9 1564.2,1192.3 1564.5,1186.5 1564.8,1190.7 1565.1,1177.4 1565.4,1191.7 1565.7,1183.1 1566.0,1192.6 1566.3,1190.8 1566.6,1207.8 1566.9,1197.8 1567.2,1198.0 1567.5,1200.0 1567.8,1216.5 1568.1,1192.3 1568.4,1202.9 1568.7,1203.8 1569.0,1202.8 1569.3,1203.1 1569.6,1198.5 1569.9,1212.7 1570.2,1210.4 1570.5,1200.9 1570.8,1202.6 1571.1,1207.4 1571.4,1209.6 1571.7,1212.3 1572.0,1206.5 1572.3,1197.1 1572.6,1216.0 1572.9,1195.6 1573.2,1201.5 1573.5,1212.8 1573.8,1203.3 1574.1,1222.8 1574.4,1225.8 1574.7,1222.6 1575.0,1215.7 1575.3,1215.7 1575.6,1218.0 1575.9,1213.4 1576.2,1233.7 1576.5,1211.4 1576.8,1228.5 1577.1,1222.4 1577.4,1220.9 1577.7,1227.9 1578.0,1230.4 1578.3,1227.5 1578.6,1219.3 1578.9,1214.6 1579.2,1215.1 1579.5,1228.9 1579.8,1227.5 1580.1,1228.9 1580.4,1217.4 1580.7,1239.8 1581.0,1211.5 1581.3,1226.6 1581.6,1229.7 1581.9,1220.4 1582.2,1215.1 1582.5,1221.6 1582.8,1216.3 1583.1,1224.8 1583.4,1216.3 1583.7,1217.0 1584.0,1229.4 1584.3,1217.0 1584.6,1228.8 1584.9,1230.4 1585.2,1240.4 1585.5,1235.5 1585.8,1226.8 1586.1,1246.6 1586.4,1229.3 1586.7,1232.6 1587.0,1233.8 1587.3,1258.0 1587.6,1238.3 1587.9,1232.0 1588.2,1245.3 1588.5,1237.8 1588.8,1262.0 1589.1,1233.2 1589.4,1245.8 1589.7,1232.1 1590.0,1258.0 1590.3,1234.4 1590.6,1243.2 1590.9,1234.1 1591.2,1250.5 1591.5,1248.0 1591.8,1222.8 1592.1,1250.9 1592.4,1250.2 1592.7,1246.6 1593.0,1254.2 1593.3,1234.1 1593.6,1229.9 1593.9,1252.7 1594.2,1263.4 1594.5,1236.3 1594.8,1237.5 1595.1,1240.6 1595.4,1238.1 1595.7,1257.8 1596.0,1251.5 1596.3,1264.1 1596.6,1265.0 1596.9,1242.4 1597.2,1258.7 1597.5,1231.9 1597.8,1252.5 1598.1,1260.0 1598.4,1246.8 1598.7,1238.1 1599.0,1250.8 1599.3,1268.2 1599.6,1253.0 1599.9,1244.2 1600.2,1262.7 1600.5,1266.2 1600.8,1249.3 1601.1,1258.4 1601.4,1271.6 1601.7,1264.9 1602.0,1269.4 1602.3,1259.5 1602.6,1262.1 1602.9,1252.7 1603.2,1257.6 1603.5,1281.6 1603.8,1261.9 1604.1,1257.8 1604.4,1262.7 1604.7,1257.8 1605.0,1280.1 1605.3,1279.2 1605.6,1260.6 1605.9,1281.8 1606.2,1294.6 1606.5,1261.5 1606.8,1280.0 1607.1,1276.2 1607.4,1288.6 1607.7,1288.4 1608.0,1287.2 1608.3,1279.2 1608.6,1268.4 1608.9,1302.1 1609.2,1269.4 1609.5,1290.6 1609.8,1290.0 1610.1,1272.0 1610.4,1280.5 1610.7,1297.3 1611.0,1262.2 1611.3,1291.0 1611.6,1279.7 1611.9,1280.9 1612.2,1269.1 1612.5,1289.5 1612.8,1274.7 1613.1,1294.3 1613.4,1275.1 1613.7,1296.3 1614.0,1292.7 1614.3,1269.8 1614.6,1287.1 1614.9,1290.4 1615.2,1269.0 1615.5,1289.7 1615.8,1304.1 1616.1,1287.7 1616.4,1310.8 1616.7,1285.5 1617.0,1285.7 1617.3,1306.8 1617.6,1308.5 1617.9,1300.1 1618.2,1303.0 1618.5,1315.8 1618.8,1298.4 1619.1,1331.2 1619.4,1311.7 1619.7,1312.1 1620.0,1311.3 1620.3,1305.1 1620.6,1324.6 1620.9,1303.2 1621.2,1313.0 1621.5,1319.4 1621.8,1329.2 1622.1,1327.6 1622.4,1309.4 1622.7,1326.3 1623.0,1314.4 1623.3,1303.5 1623.6,1304.6 1623.9,1299.4 1624.2,1321.9 1624.5,1332.6 1624.8,1307.7 1625.1,1316.7 1625.4,1307.9 1625.7,1321.8 1626.0,1308.4 1626.3,1313.1 1626.6,1315.3 1626.9,1318.4 1627.2,1320.3 1627.5,1323.0 1627.8,1323.7 1628.1,1315.2 1628.4,1334.2 1628.7,1307.9 1629.0,1330.4 1629.3,1317.9 1629.6,1331.6 1629.9,1334.3 1630.2,1308.0 1630.5,1336.6 1630.8,1350.1 1631.1,1343.4 1631.4,1339.0 1631.7,1310.2 1632.0,1333.9 1632.3,1325.7 1632.6,1351.0 1632.9,1334.2 1633.2,1331.0 1633.5,1318.3 1633.8,1349.8 1634.1,1334.0 1634.4,1338.5 1634.7,1356.7 1635.0,1344.3 1635.3,1348.4 1635.6,1378.4 1635.9,1339.5 1636.2,1341.3 1636.5,1355.2 1636.8,1369.0 1637.1,1333.5 1637.4,1350.0 1637.7,1341.8 1638.0,1338.3 1638.3,1364.9 1638.6,1348.6 1638.9,1364.0 1639.2,1363.0 1639.5,1364.9 1639.8,1365.3 1640.1,1352.0 1640.4,1366.7 1640.7,1372.2 1641.0,1375.5 1641.3,1368.4 1641.6,1387.7 1641.9,1383.4 1642.2,1378.3 1642.5,1387.2 1642.8,1382.0 1643.1,1390.6 1643.4,1355.4 1643.7,1365.3 1644.0,1378.4 1644.3,1386.8 1644.6,1357.1 1644.9,1383.5 1645.2,1390.7 1645.5,1386.0 1645.8,1387.1 1646.1,1372.5 1646.4,1394.3 1646.7,1365.3 1647.0,1409.5 1647.3,1386.4 1647.6,1413.3 1647.9,1372.4 1648.2,1404.3 1648.5,1400.8 1648.8,1387.0 1649.1,1383.0 1649.4,1419.8 1649.7,1408.2 1650.0,1426.1 1650.3,1402.1 1650.6,1406.5 1650.9,1411.2 1651.2,1417.4 1651.5,1413.5 1651.8,1420.2 1652.1,1401.0 1652.4,1387.6 1652.7,1443.4 1653.0,1413.6 1653.3,1419.3 1653.6,1405.8 1653.9,1429.7 1654.2,1417.2 1654.5,1432.6 1654.8,1405.5 1655.1,1415.3 1655.4,1419.9 1655.7,1412.2 1656.0,1422.4 1656.3,1445.1 1656.6,1410.3 1656.9,1415.5 1657.2,1423.0 1657.5,1406.1 1657.8,1403.3 1658.1,1440.5 1658.4,1435.9 1658.7,1400.6 1659.0,1403.1 1659.3,1437.4 1659.6,1445.8 1659.9,1437.3 1660.2,1435.8 1660.5,1455.5 1660.8,1428.7 1661.1,1451.8 1661.4,1451.4 1661.7,1417.3 1662.0,1443.9 1662.3,1434.5 1662.6,1424.2 1662.9,1422.2 1663.2,1441.7 1663.5,1436.3 1663.8,1452.1 1664.1,1411.8 1664.4,1429.4 1664.7,1460.3 1665.0,1441.8 1665.3,1431.2 1665.6,1435.8 1665.9,1415.8 1666.2,1423.5 1666.5,1455.9 1666.8,1448.9 1667.1,1471.5 1667.4,1444.8 1667.7,1447.3 1668.0,1408.5 1668.3,1450.0 1668.6,1492.7 1668.9,1465.6 1669.2,1452.5 1669.5,1478.8 1669.8,1472.4 1670.1,1464.1 1670.4,1452.6 1670.7,1462.6 1671.0,1477.3 1671.3,1448.0 1671.6,1472.7 1671.9,1472.9 1672.2,1491.2 1672.5,1480.2 1672.8,1454.5 1673.1,1498.7 1673.4,1468.7 1673.7,1455.2 1674.0,1475.6 1674.3,1464.7 1674.6,1491.2 1674.9,1447.2 1675.2,1451.2 1675.5,1466.9 1675.8,1507.2 1676.1,1492.9 1676.4,1455.7 1676.7,1444.2 1677.0,1469.3 1677.3,1453.4 1677.6,1488.3 1677.9,1481.1 1678.2,1478.4 1678.5,1471.5 1678.8,1511.9 1679.1,1464.3 1679.4,1458.7 1679.7,1507.3 1680.0,1513.2 1680.3,1479.6 1680.6,1500.9 1680.9,1541.9 1681.2,1475.0 1681.5,1488.8 1681.8,1503.2 1682.1,1456.1 1682.4,1493.7 1682.7,1514.1 1683.0,1497.6 1683.3,1524.0 1683.6,1519.3 1683.9,1496.4 1684.2,1517.8 1684.5,1516.9 1684.8,1475.6 1685.1,1492.0 1685.4,1494.1 1685.7,1500.4 1686.0,1502.1 1686.3,1483.6 1686.6,1513.9 1686.9,1477.1 1687.2,1535.8 1687.5,1520.0 1687.8,1546.7 1688.1,1522.2 1688.4,1503.9 1688.7,1485.7 1689.0,1529.9 1689.3,1515.3 1689.6,1523.6 1689.9,1532.8 1690.2,1544.3 1690.5,1516.3 1690.8,1560.1 1691.1,1517.3 1691.4,1520.5 1691.7,1537.4 1692.0,1547.7 1692.3,1559.2 1692.6,1489.1 1692.9,1562.3 1693.2,1498.4 1693.5,1519.8 1693.8,1543.7 1694.1,1565.8 1694.4,1515.4 1694.7,1502.9 1695.0,1565.5 1695.3,1550.7 1695.6,1520.9 1695.9,1538.4 1696.2,1503.9 1696.5,1563.6 1696.8,1537.6 1697.1,1585.5 1697.4,1506.6 1697.7,1573.8"/>
<line stroke="#f00" stroke-width="9" x1="761.4" y1="298.2" x2="765.5" y2="272.3"/>
<line stroke="#f00" stroke-width="9" x1="775.3" y1="236.4" x2="788.6" y2="213.3"/>
<line stroke="#f00" stroke-width="9" x1="823.5" y1="197.5" x2="848" y2="207.8"/>
<line stroke="#f00" stroke-width="9" x1="872.3" y1="233.3" x2="888.7" y2="250.5"/>
<line stroke="#f00" stroke-width="9" x1="915.2" y1="285.2" x2="928" y2="309.6"/>
<line stroke="#f00" stroke-width="9" x1="943.5" y1="345.2" x2="955.7" y2="369.5"/>
<line stroke="#f00" stroke-width="9" x1="975.1" y1="403.8" x2="988.7" y2="426.1"/>
<line stroke="#f00" stroke-width="9" x1="1006.2" y1="452.5" x2="1018.7" y2="471"/>
<line stroke="#f00" stroke-width="9" x1="1039.1" y1="500.4" x2="1051.9" y2="518.1"/>
<line stroke="#f00" stroke-width="9" x1="1069.6" y1="540.4" x2="1085.4" y2="562.2"/>
<line stroke="#f00" stroke-width="9" x1="1106.4" y1="588.1" x2="1118.7" y2="603.1"/>
<line stroke="#f00" stroke-width="9" x1="1139.4" y1="625.2" x2="1154" y2="641.3"/>
<line stroke="#f00" stroke-width="9" x1="1174.3" y1="664.5" x2="1187.3" y2="679.5"/>
<line stroke="#f00" stroke-width="9" x1="1210.5" y1="702.7" x2="1223.6" y2="715.5"/>
<line stroke="#f00" stroke-width="9" x1="1239.1" y1="733.5" x2="1251.3" y2="745.7"/>
<line stroke="#f00" stroke-width="9" x1="1268.5" y1="762.6" x2="1283.2" y2="777.6"/>
<line stroke="#f00" stroke-width="9" x1="1300.9" y1="793.4" x2="1314.8" y2="806.4"/>
<line stroke="#f00" stroke-width="9" x1="1330.3" y1="821.4" x2="1344.8" y2="833.4"/>
<line stroke="#f00" stroke-width="9" x1="1355.4" y1="845.9" x2="1365.2" y2="853.3"/>
<line stroke="#f00" stroke-width="9" x1="1375.3" y1="862.3" x2="1386.2" y2="873.2"/>
<line stroke="#f00" stroke-width="9" x1="1398.4" y1="885.2" x2="1402" y2="889.2"/>
<line stroke="#f00" stroke-width="9" x1="1414.2" y1="898.2" x2="1424.8" y2="907.8"/>
<line stroke="#f00" stroke-width="9" x1="1435.7" y1="915.1" x2="1451.5" y2="933.6"/>
<line stroke="#f00" stroke-width="9" x1="1461" y1="942" x2="1469" y2="947"/>
<line stroke="#f00" stroke-width="9" x1="1472" y1="953.5" x2="1483" y2="956.5"/>
<line stroke="#f00" stroke-width="9" x1="1487" y1="963" x2="1507" y2="983"/>
<line stroke="#f00" stroke-width="9" x1="1518" y1="993" x2="1527" y2="999"/>
<polyline stroke="#f00" stroke-width="9" points="1531.0,1001.8 1531.3,1002.1 1531.6,1001.7 1531.9,1001.6 1532.2,1001.7 1532.5,1003.0 1532.8,1002.9 1533.1,1004.4 1533.4,1005.1 1533.7,1004.5 1534.0,1004.6 1534.3,1005.5 1534.6,1006.0 1534.9,1004.7 1535.2,1005.9 1535.5,1006.7 1535.8,1004.2 1536.1,1005.9 1536.4,1006.8 1536.7,1006.1 1537.0,1007.3 1537.3,1005.9 1537.6,1008.4 1537.9,1008.4 1538.2,1007.8 1538.5,1008.5 1538.8,1007.2 1539.1,1009.7 1539.4,1009.3 1539.7,1008.7 1540.0,1008.8 1540.3,1008.8 1540.6,1009.5 1540.9,1008.4 1541.2,1010.7 1541.5,1010.4 1541.8,1010.2 1542.1,1011.3 1542.4,1011.6 1542.7,1011.9 1543.0,1012.3 1543.3,1012.9 1543.6,1012.7 1543.9,1013.7 1544.2,1012.4 1544.5,1014.2 1544.8,1011.4 1545.1,1011.9 1545.4,1012.6 1545.7,1013.9 1546.0,1014.4 1546.3,1013.1 1546.6,1014.2 1546.9,1014.1 1547.2,1015.5 1547.5,1014.2 1547.8,1016.1 1548.1,1015.6 1548.4,1017.5 1548.7,1016.9 1549.0,1016.3 1549.3,1017.9 1549.6,1017.8 1549.9,1017.1 1550.2,1018.2 1550.5,1017.4 1550.8,1021.1 1551.1,1018.8 1551.4,1019.2 1551.7,1021.4 1552.0,1021.6 1552.3,1019.9 1552.6,1022.1 1552.9,1022.0 1553.2,1021.2 1553.5,1022.4 1553.8,1022.0 1554.1,1023.6 1554.4,1022.8 1554.7,1022.4 1555.0,1023.4 1555.3,1026.2 1555.6,1023.7 1555.9,1024.6 1556.2,1025.8 1556.5,1023.9 1556.8,1027.2 1557.1,1024.0 1557.4,1026.7 1557.7,1024.8 1558.0,1026.7 1558.3,1028.3 1558.6,1027.2 1558.9,1027.2 1559.2,1027.3 1559.5,1027.1 1559.8,1029.5 1560.1,1028.4 1560.4,1028.5 1560.7,1029.9 1561.0,1031.0 1561.3,1031.4 1561.6,1030.0 1561.9,1030.3 1562.2,1032.4 1562.5,1033.3 1562.8,1030.8 1563.1,1034.2 1563.4,1032.6 1563.7,1034.0 1564.0,1035.3 1564.3,1033.5 1564.6,1034.1 1564.9,1032.5 1565.2,1031.8 1565.5,1034.8 1565.8,1033.6 1566.1,1033.8 1566.4,1035.7 1566.7,1036.3 1567.0,1033.7 1567.3,1036.1 1567.6,1035.9 1567.9,1036.4 1568.2,1036.4 1568.5,1037.9 1568.8,1035.7 1569.1,1035.2 1569.4,1037.3 1569.7,1038.6 1570.0,1037.1 1570.3,1039.1 1570.6,1038.2 1570.9,1036.1 1571.2,1034.9 1571.5,1037.4 1571.8,1039.3 1572.1,1037.3 1572.4,1041.2 1572.7,1039.6 1573.0,1037.2 1573.3,1038.4 1573.6,1041.4 1573.9,1042.2 1574.2,1039.5 1574.5,1041.1 1574.8,1042.2 1575.1,1041.4 1575.4,1043.2 1575.7,1045.5 1576.0,1042.5 1576.3,1044.9 1576.6,1045.8 1576.9,1046.8 1577.2,1045.1 1577.5,1047.0 1577.8,1045.5 1578.1,1047.1 1578.4,1045.7 1578.7,1048.0 1579.0,1048.7 1579.3,1050.7 1579.6,1049.8 1579.9,1047.6 1580.2,1044.6 1580.5,1050.7 1580.8,1050.5 1581.1,1048.8 1581.4,1048.8 1581.7,1050.5 1582.0,1049.6 1582.3,1052.2 1582.6,1050.5 1582.9,1049.0 1583.2,1048.1 1583.5,1050.9 1583.8,1051.3 1584.1,1050.5 1584.4,1049.9 1584.7,1051.1 1585.0,1053.2 1585.3,1051.9 1585.6,1051.4 1585.9,1054.2 1586.2,1055.5 1586.5,1053.1 1586.8,1053.7 1587.1,1053.2 1587.4,1054.9 1587.7,1056.3 1588.0,1056.4 1588.3,1057.6 1588.6,1057.9 1588.9,1057.7 1589.2,1057.9 1589.5,1055.8 1589.8,1061.9 1590.1,1058.4 1590.4,1059.6 1590.7,1056.8 1591.0,1059.1 1591.3,1060.5 1591.6,1057.8 1591.9,1060.6 1592.2,1061.8 1592.5,1058.9 1592.8,1060.5 1593.1,1059.2 1593.4,1060.4 1593.7,1061.2 1594.0,1062.5 1594.3,1064.7 1594.6,1061.9 1594.9,1063.1 1595.2,1062.3 1595.5,1063.6 1595.8,1066.1 1596.1,1065.6 1596.4,1062.9 1596.7,1062.1 1597.0,1065.0 1597.3,1063.9 1597.6,1062.5 1597.9,1066.5 1598.2,1065.9 1598.5,1067.5 1598.8,1063.7 1599.1,1065.5 1599.4,1067.0 1599.7,1069.3 1600.0,1067.3 1600.3,1065.1 1600.6,1067.5 1600.9,1068.0 1601.2,1066.3 1601.5,1069.8 1601.8,1067.8 1602.1,1067.0 1602.4,1069.7 1602.7,1070.0 1603.0,1068.3 1603.3,1069.1 1603.6,1069.6 1603.9,1069.0 1604.2,1069.1 1604.5,1071.3 1604.8,1071.0 1605.1,1069.1 1605.4,1068.1 1605.7,1067.8 1606.0,1071.9 1606.3,1068.5 1606.6,1069.3 1606.9,1070.8 1607.2,1070.1 1607.5,1069.7 1607.8,1068.2 1608.1,1073.7 1608.4,1071.0 1608.7,1072.6 1609.0,1073.1 1609.3,1071.0 1609.6,1072.0 1609.9,1075.8 1610.2,1074.8 1610.5,1074.2 1610.8,1077.6 1611.1,1073.7 1611.4,1075.8 1611.7,1075.6 1612.0,1075.6 1612.3,1073.1 1612.6,1076.6 1612.9,1077.6 1613.2,1073.9 1613.5,1078.4 1613.8,1078.7 1614.1,1083.4 1614.4,1076.1 1614.7,1077.9 1615.0,1077.9 1615.3,1078.8 1615.6,1079.7 1615.9,1081.3 1616.2,1081.6 1616.5,1079.6 1616.8,1080.6 1617.1,1078.0 1617.4,1083.0 1617.7,1082.8 1618.0,1084.3 1618.3,1079.8 1618.6,1085.3 1618.9,1081.6 1619.2,1080.6 1619.5,1084.0 1619.8,1082.5 1620.1,1088.4 1620.4,1085.1 1620.7,1087.8 1621.0,1084.3 1621.3,1084.7 1621.6,1086.4 1621.9,1083.1 1622.2,1084.4 1622.5,1086.3 1622.8,1086.4 1623.1,1088.5 1623.4,1086.0 1623.7,1081.5 1624.0,1087.4 1624.3,1085.3 1624.6,1087.6 1624.9,1085.1 1625.2,1086.1 1625.5,1087.8 1625.8,1091.3 1626.1,1088.9 1626.4,1085.7 1626.7,1089.0 1627.0,1086.2 1627.3,1090.0 1627.6,1093.1 1627.9,1088.5 1628.2,1088.9 1628.5,1091.0 1628.8,1090.7 1629.1,1089.4 1629.4,1091.5 1629.7,1089.6 1630.0,1091.0 1630.3,1095.8 1630.6,1091.3 1630.9,1092.5 1631.2,1093.4 1631.5,1091.0 1631.8,1093.3 1632.1,1091.5 1632.4,1090.7 1632.7,1092.9 1633.0,1097.3 1633.3,1095.9 1633.6,1092.6 1633.9,1095.5 1634.2,1097.1 1634.5,1095.8 1634.8,1094.7 1635.1,1095.5 1635.4,1094.8 1635.7,1098.2 1636.0,1097.1 1636.3,1097.2 1636.6,1096.8 1636.9,1101.6 1637.2,1097.5 1637.5,1100.1 1637.8,1094.2 1638.1,1094.0 1638.4,1093.9 1638.7,1096.0 1639.0,1099.2 1639.3,1096.1 1639.6,1099.0 1639.9,1097.4 1640.2,1101.1 1640.5,1100.7 1640.8,1098.5 1641.1,1095.8 1641.4,1100.2 1641.7,1095.2 1642.0,1094.4 1642.3,1103.9 1642.6,1101.3 1642.9,1103.7 1643.2,1102.1 1643.5,1103.4 1643.8,1102.6 1644.1,1100.5 1644.4,1100.9 1644.7,1102.8 1645.0,1103.7 1645.3,1103.8 1645.6,1104.1 1645.9,1103.4 1646.2,1105.0 1646.5,1103.0 1646.8,1108.9 1647.1,1104.2 1647.4,1102.3 1647.7,1106.4 1648.0,1110.6 1648.3,1104.3 1648.6,1108.8 1648.9,1115.9 1649.2,1109.5 1649.5,1107.9 1649.8,1108.9 1650.1,1104.3 1650.4,1109.3 1650.7,1111.0 1651.0,1116.7 1651.3,1114.9 1651.6,1112.1 1651.9,1111.1 1652.2,1115.7 1652.5,1114.9 1652.8,1112.4 1653.1,1118.7 1653.4,1118.9 1653.7,1114.6 1654.0,1113.4 1654.3,1115.3 1654.6,1120.1 1654.9,1114.1 1655.2,1117.6 1655.5,1112.6 1655.8,1114.5 1656.1,1113.6 1656.4,1112.7 1656.7,1115.8 1657.0,1112.5 1657.3,1111.5 1657.6,1113.9 1657.9,1111.7 1658.2,1116.9 1658.5,1113.1 1658.8,1115.1 1659.1,1118.6 1659.4,1116.5 1659.7,1118.0 1660.0,1118.4 1660.3,1117.0 1660.6,1114.8 1660.9,1119.7 1661.2,1118.0 1661.5,1122.7 1661.8,1118.9 1662.1,1116.6 1662.4,1118.0 1662.7,1119.4 1663.0,1122.6 1663.3,1124.3 1663.6,1122.5 1663.9,1126.5 1664.2,1126.7 1664.5,1121.4 1664.8,1127.1 1665.1,1120.2 1665.4,1129.8 1665.7,1125.2 1666.0,1130.4 1666.3,1127.2 1666.6,1131.4 1666.9,1129.0 1667.2,1130.2 1667.5,1131.8 1667.8,1129.7 1668.1,1127.5 1668.4,1134.1 1668.7,1128.0 1669.0,1133.3 1669.3,1134.2 1669.6,1128.3 1669.9,1141.5 1670.2,1137.4 1670.5,1141.1 1670.8,1136.9 1671.1,1136.9 1671.4,1125.5 1671.7,1135.7 1672.0,1131.6 1672.3,1133.3 1672.6,1138.7 1672.9,1136.2 1673.2,1132.9 1673.5,1137.7 1673.8,1137.9 1674.1,1135.9 1674.4,1143.9 1674.7,1142.2 1675.0,1139.1 1675.3,1138.9 1675.6,1143.8 1675.9,1142.4 1676.2,1142.2 1676.5,1142.7 1676.8,1140.4 1677.1,1142.6 1677.4,1142.6 1677.7,1147.8 1678.0,1146.9 1678.3,1142.7 1678.6,1148.8 1678.9,1143.0 1679.2,1145.9 1679.5,1146.4 1679.8,1141.8 1680.1,1145.9 1680.4,1149.3 1680.7,1145.9 1681.0,1143.7 1681.3,1135.5 1681.6,1150.9 1681.9,1144.4 1682.2,1145.4 1682.5,1141.9 1682.8,1146.5 1683.1,1153.7 1683.4,1141.9 1683.7,1150.0 1684.0,1147.1 1684.3,1151.8 1684.6,1155.0 1684.9,1149.7 1685.2,1145.7 1685.5,1146.1 1685.8,1151.1 1686.1,1147.8 1686.4,1150.9 1686.7,1149.6 1687.0,1149.7 1687.3,1148.5 1687.6,1152.8 1687.9,1152.1 1688.2,1150.8 1688.5,1151.6 1688.8,1155.0 1689.1,1147.3 1689.4,1154.9 1689.7,1151.4 1690.0,1153.8 1690.3,1151.0 1690.6,1163.0 1690.9,1149.4 1691.2,1157.5 1691.5,1161.5 1691.8,1157.4 1692.1,1150.8 1692.4,1157.0 1692.7,1167.7 1693.0,1161.0 1693.3,1155.2 1693.6,1164.7 1693.9,1160.7 1694.2,1161.2 1694.5,1153.0 1694.8,1161.4 1695.1,1156.0 1695.4,1162.9 1695.7,1163.4 1696.0,1157.4 1696.3,1158.8 1696.6,1167.1 1696.9,1157.1 1697.2,1159.4 1697.5,1164.0 1697.8,1161.4 1698.1,1161.6 1698.4,1164.5 1698.7,1165.2 1699.0,1165.8 1699.3,1164.7 1699.6,1168.8 1699.9,1164.5 1700.2,1170.0 1700.5,1164.8 1700.8,1165.6 1701.1,1169.3 1701.4,1163.0 1701.7,1159.6 1702.0,1162.1 1702.3,1171.9 1702.6,1162.9 1702.9,1167.0 1703.2,1168.3 1703.5,1170.6 1703.8,1168.8 1704.1,1164.2 1704.4,1167.5 1704.7,1171.2 1705.0,1172.5 1705.3,1171.9 1705.6,1168.6 1705.9,1164.3 1706.2,1175.0 1706.5,1171.4 1706.8,1173.1 1707.1,1174.6 1707.4,1170.6 1707.7,1170.3 1708.0,1183.0 1708.3,1176.3 1708.6,1168.3 1708.9,1171.5 1709.2,1170.8 1709.5,1174.5 1709.8,1174.1 1710.1,1171.1 1710.4,1174.5 1710.7,1176.7 1711.0,1172.7 1711.3,1169.5 1711.6,1176.5 1711.9,1169.0 1712.2,1170.4 1712.5,1176.2 1712.8,1173.2 1713.1,1173.6 1713.4,1171.5 1713.7,1171.7 1714.0,1179.2 1714.3,1179.8 1714.6,1171.5 1714.9,1175.3 1715.2,1173.2 1715.5,1175.4 1715.8,1171.6 1716.1,1182.2 1716.4,1174.2 1716.7,1181.8 1717.0,1176.6 1717.3,1174.8 1717.6,1185.5 1717.9,1179.3 1718.2,1182.4 1718.5,1182.9 1718.8,1182.1 1719.1,1186.8 1719.4,1186.9 1719.7,1181.2 1720.0,1180.9 1720.3,1186.6 1720.6,1190.5 1720.9,1176.6 1721.2,1181.4 1721.5,1184.6 1721.8,1190.3 1722.1,1188.9 1722.4,1186.1 1722.7,1191.2 1723.0,1181.8 1723.3,1187.8 1723.6,1187.4 1723.9,1193.5 1724.2,1193.7 1724.5,1193.9 1724.8,1190.4 1725.1,1193.2 1725.4,1194.1 1725.7,1192.4 1726.0,1193.5 1726.3,1189.3 1726.6,1196.6 1726.9,1200.5 1727.2,1197.0 1727.5,1191.7 1727.8,1200.2 1728.1,1198.1 1728.4,1200.0 1728.7,1197.1 1729.0,1197.8 1729.3,1202.3 1729.6,1199.9 1729.9,1195.3 1730.2,1194.7 1730.5,1195.5 1730.8,1195.9 1731.1,1200.9 1731.4,1201.2 1731.7,1196.3 1732.0,1205.2 1732.3,1201.0 1732.6,1209.0 1732.9,1203.3 1733.2,1205.1 1733.5,1213.1 1733.8,1200.9 1734.1,1206.8 1734.4,1205.8 1734.7,1205.8 1735.0,1208.3 1735.3,1199.8 1735.6,1208.1 1735.9,1205.6 1736.2,1212.4 1736.5,1209.2 1736.8,1208.9 1737.1,1210.6 1737.4,1210.7 1737.7,1207.9 1738.0,1202.3 1738.3,1209.6 1738.6,1209.9 1738.9,1211.2 1739.2,1199.1 1739.5,1203.0 1739.8,1207.5 1740.1,1206.9 1740.4,1212.9 1740.7,1210.5 1741.0,1208.9 1741.3,1209.2 1741.6,1217.2 1741.9,1212.9 1742.2,1207.3 1742.5,1207.0 1742.8,1218.7 1743.1,1209.2 1743.4,1204.4 1743.7,1212.8 1744.0,1209.3 1744.3,1217.0 1744.6,1207.5 1744.9,1216.4 1745.2,1217.5 1745.5,1214.0 1745.8,1203.3 1746.1,1216.7 1746.4,1220.3 1746.7,1213.5 1747.0,1215.3 1747.3,1210.0 1747.6,1223.7 1747.9,1226.0 1748.2,1221.0 1748.5,1218.6 1748.8,1219.4 1749.1,1216.7 1749.4,1228.9 1749.7,1226.2 1750.0,1223.4 1750.3,1219.2 1750.6,1220.9 1750.9,1225.0 1751.2,1227.7 1751.5,1218.9 1751.8,1218.4 1752.1,1210.4 1752.4,1222.9 1752.7,1214.7 1753.0,1227.2 1753.3,1224.0 1753.6,1224.5 1753.9,1223.6 1754.2,1225.6 1754.5,1224.3 1754.8,1222.4 1755.1,1224.7 1755.4,1220.2 1755.7,1224.3 1756.0,1224.6 1756.3,1218.8 1756.6,1224.8 1756.9,1226.4 1757.2,1228.1 1757.5,1228.6 1757.8,1227.0 1758.1,1234.2 1758.4,1225.7 1758.7,1224.3 1759.0,1226.6 1759.3,1234.7 1759.6,1240.3 1759.9,1234.9 1760.2,1232.1 1760.5,1228.9 1760.8,1233.6 1761.1,1234.1 1761.4,1225.4 1761.7,1235.5 1762.0,1227.2 1762.3,1227.8 1762.6,1238.4 1762.9,1230.7 1763.2,1234.8 1763.5,1236.9 1763.8,1241.7 1764.1,1240.7 1764.4,1231.7 1764.7,1236.1 1765.0,1233.7 1765.3,1241.0 1765.6,1238.3 1765.9,1240.5 1766.2,1246.4 1766.5,1248.1 1766.8,1238.6 1767.1,1241.1 1767.4,1247.6 1767.7,1244.4 1768.0,1241.5 1768.3,1236.6 1768.6,1251.0 1768.9,1244.1 1769.2,1237.4 1769.5,1248.0 1769.8,1241.7 1770.1,1263.4 1770.4,1242.7 1770.7,1250.6 1771.0,1260.9 1771.3,1243.5 1771.6,1246.3 1771.9,1245.8 1772.2,1246.2 1772.5,1252.9 1772.8,1257.0 1773.1,1255.8 1773.4,1253.9 1773.7,1251.9 1774.0,1256.9 1774.3,1254.2 1774.6,1250.2 1774.9,1253.3 1775.2,1243.5 1775.5,1244.4 1775.8,1261.9 1776.1,1259.0 1776.4,1270.8 1776.7,1262.8 1777.0,1254.0 1777.3,1262.6 1777.6,1263.3 1777.9,1259.6 1778.2,1254.4 1778.5,1261.1 1778.8,1261.7 1779.1,1255.5 1779.4,1258.6 1779.7,1259.4 1780.0,1257.5 1780.3,1269.0 1780.6,1262.9 1780.9,1268.4 1781.2,1259.9 1781.5,1261.6 1781.8,1272.6 1782.1,1259.7 1782.4,1274.1 1782.7,1261.2 1783.0,1266.7 1783.3,1272.9 1783.6,1274.2 1783.9,1269.4 1784.2,1267.6 1784.5,1271.1 1784.8,1263.6 1785.1,1274.3 1785.4,1266.0 1785.7,1265.6 1786.0,1275.9 1786.3,1263.1 1786.6,1271.6 1786.9,1294.1 1787.2,1267.4 1787.5,1265.1 1787.8,1258.8 1788.1,1266.3 1788.4,1248.0 1788.7,1255.8 1789.0,1257.7 1789.3,1256.5 1789.6,1261.8 1789.9,1267.0 1790.2,1260.4 1790.5,1258.8 1790.8,1262.9 1791.1,1265.7 1791.4,1273.3 1791.7,1260.8 1792.0,1262.7 1792.3,1272.2 1792.6,1264.4 1792.9,1261.2 1793.2,1266.0 1793.5,1261.2 1793.8,1261.7 1794.1,1274.6 1794.4,1268.2 1794.7,1264.2 1795.0,1262.2 1795.3,1259.9 1795.6,1279.4 1795.9,1269.1 1796.2,1265.3 1796.5,1263.0 1796.8,1261.0 1797.1,1276.6 1797.4,1274.0 1797.7,1278.7 1798.0,1268.5 1798.3,1281.8 1798.6,1268.0 1798.9,1270.2 1799.2,1273.6 1799.5,1290.6 1799.8,1282.4 1800.1,1274.8 1800.4,1288.8 1800.7,1282.5 1801.0,1282.6 1801.3,1272.4 1801.6,1281.9 1801.9,1282.8 1802.2,1287.9 1802.5,1285.8 1802.8,1287.4 1803.1,1282.6 1803.4,1288.8 1803.7,1281.8 1804.0,1299.8 1804.3,1281.7 1804.6,1290.9 1804.9,1283.2 1805.2,1290.4 1805.5,1286.1 1805.8,1282.7 1806.1,1296.5 1806.4,1293.0 1806.7,1295.4 1807.0,1293.6 1807.3,1306.8 1807.6,1297.7 1807.9,1298.9 1808.2,1303.4 1808.5,1300.0 1808.8,1310.2 1809.1,1290.6 1809.4,1297.6 1809.7,1288.6 1810.0,1307.9 1810.3,1310.6 1810.6,1300.8 1810.9,1315.4 1811.2,1302.2 1811.5,1309.3 1811.8,1307.1 1812.1,1303.4 1812.4,1305.3 1812.7,1293.2 1813.0,1302.1 1813.3,1316.7 1813.6,1300.7 1813.9,1318.2 1814.2,1308.2 1814.5,1318.8 1814.8,1316.2 1815.1,1301.2 1815.4,1315.5 1815.7,1316.9 1816.0,1317.0 1816.3,1315.7 1816.6,1303.4 1816.9,1323.7 1817.2,1324.8 1817.5,1311.3 1817.8,1328.7 1818.1,1319.3 1818.4,1308.2 1818.7,1317.1 1819.0,1321.1 1819.3,1323.1 1819.6,1325.0 1819.9,1322.5 1820.2,1316.9 1820.5,1308.6 1820.8,1310.8 1821.1,1322.9 1821.4,1324.4 1821.7,1313.2 1822.0,1333.6 1822.3,1322.2 1822.6,1321.3 1822.9,1327.7 1823.2,1326.7 1823.5,1315.8 1823.8,1332.0 1824.1,1325.7 1824.4,1323.5 1824.7,1317.6 1825.0,1329.4 1825.3,1309.8 1825.6,1320.9 1825.9,1320.8 1826.2,1322.1 1826.5,1325.3 1826.8,1328.6 1827.1,1312.2 1827.4,1320.8 1827.7,1324.6 1828.0,1317.0 1828.3,1332.7 1828.6,1323.1 1828.9,1329.9 1829.2,1339.7 1829.5,1327.1 1829.8,1364.2 1830.1,1331.4 1830.4,1346.7 1830.7,1336.4 1831.0,1329.2 1831.3,1337.3 1831.6,1349.0 1831.9,1344.3 1832.2,1348.0 1832.5,1356.2 1832.8,1355.8 1833.1,1344.9 1833.4,1340.3 1833.7,1362.4 1834.0,1345.8 1834.3,1340.3 1834.6,1343.9 1834.9,1354.4 1835.2,1335.1 1835.5,1356.2 1835.8,1338.3 1836.1,1329.6 1836.4,1364.0 1836.7,1341.3 1837.0,1340.5 1837.3,1341.1 1837.6,1350.3 1837.9,1345.7 1838.2,1356.0 1838.5,1341.1 1838.8,1337.2 1839.1,1348.4 1839.4,1351.0 1839.7,1346.7 1840.0,1342.5 1840.3,1342.1 1840.6,1344.1 1840.9,1343.0 1841.2,1357.1 1841.5,1372.8 1841.8,1339.7 1842.1,1333.0 1842.4,1361.2 1842.7,1354.3 1843.0,1345.5 1843.3,1339.9 1843.6,1343.4 1843.9,1338.0 1844.2,1351.4 1844.5,1347.3 1844.8,1347.8 1845.1,1356.8 1845.4,1341.1 1845.7,1347.2 1846.0,1344.2 1846.3,1358.5 1846.6,1344.8 1846.9,1366.8 1847.2,1352.4 1847.5,1386.0 1847.8,1368.5 1848.1,1350.9 1848.4,1364.0 1848.7,1358.1 1849.0,1378.6 1849.3,1345.6 1849.6,1356.0 1849.9,1363.4 1850.2,1359.5 1850.5,1361.3 1850.8,1350.8 1851.1,1364.2 1851.4,1384.2 1851.7,1371.0 1852.0,1355.1 1852.3,1363.3 1852.6,1374.9 1852.9,1364.0 1853.2,1370.0 1853.5,1365.0 1853.8,1391.2 1854.1,1383.3 1854.4,1365.9 1854.7,1376.5 1855.0,1370.6 1855.3,1353.7 1855.6,1379.7 1855.9,1374.0 1856.2,1384.2 1856.5,1385.9 1856.8,1380.0 1857.1,1397.9 1857.4,1407.2 1857.7,1365.2 1858.0,1382.6 1858.3,1368.4 1858.6,1380.1 1858.9,1379.6 1859.2,1373.2 1859.5,1372.2 1859.8,1395.1 1860.1,1365.3 1860.4,1390.5 1860.7,1375.3 1861.0,1348.5 1861.3,1375.0 1861.6,1356.4 1861.9,1384.1 1862.2,1366.8 1862.5,1373.5 1862.8,1368.5 1863.1,1383.6 1863.4,1384.6 1863.7,1370.0 1864.0,1394.0 1864.3,1385.7 1864.6,1368.8 1864.9,1385.0 1865.2,1389.8 1865.5,1394.1 1865.8,1379.7 1866.1,1387.6 1866.4,1382.1 1866.7,1388.5 1867.0,1365.3 1867.3,1394.9 1867.6,1417.8 1867.9,1390.8 1868.2,1393.8 1868.5,1393.2 1868.8,1419.5 1869.1,1383.6 1869.4,1400.2 1869.7,1401.9 1870.0,1425.9 1870.3,1397.7 1870.6,1406.5 1870.9,1388.5 1871.2,1414.2 1871.5,1428.0 1871.8,1408.5 1872.1,1425.2 1872.4,1406.1 1872.7,1429.6 1873.0,1415.3 1873.3,1417.3 1873.6,1414.7 1873.9,1422.3 1874.2,1427.2 1874.5,1415.5 1874.8,1423.7 1875.1,1412.4 1875.4,1418.9 1875.7,1452.4 1876.0,1415.7 1876.3,1394.3 1876.6,1410.2 1876.9,1398.6 1877.2,1408.2 1877.5,1423.0 1877.8,1437.9 1878.1,1403.8 1878.4,1400.6 1878.7,1408.3 1879.0,1411.0 1879.3,1411.9 1879.6,1419.2 1879.9,1414.8 1880.2,1419.5 1880.5,1414.8 1880.8,1436.5 1881.1,1431.3 1881.4,1411.7 1881.7,1426.7 1882.0,1465.7 1882.3,1419.1 1882.6,1463.3 1882.9,1391.4 1883.2,1409.5 1883.5,1410.3 1883.8,1433.0 1884.1,1441.8 1884.4,1425.9 1884.7,1422.4 1885.0,1437.1 1885.3,1421.6 1885.6,1413.7 1885.9,1416.2 1886.2,1447.0 1886.5,1471.9 1886.8,1430.7 1887.1,1444.8 1887.4,1426.2 1887.7,1407.6 1888.0,1409.1 1888.3,1434.2 1888.6,1421.0 1888.9,1413.2 1889.2,1443.3 1889.5,1440.1 1889.8,1430.1 1890.1,1447.7 1890.4,1457.6 1890.7,1463.0 1891.0,1447.2 1891.3,1459.7 1891.6,1430.8 1891.9,1452.2 1892.2,1417.2 1892.5,1420.7 1892.8,1468.8 1893.1,1421.2 1893.4,1448.9 1893.7,1414.7 1894.0,1429.8 1894.3,1440.5 1894.6,1426.7 1894.9,1451.5 1895.2,1434.3 1895.5,1434.2 1895.8,1446.1 1896.1,1436.7 1896.4,1467.8 1896.7,1436.3 1897.0,1476.5 1897.3,1437.8 1897.6,1442.0 1897.9,1438.0 1898.2,1465.8 1898.5,1396.1 1898.8,1458.4 1899.1,1449.5 1899.4,1468.9 1899.7,1421.8 1900.0,1459.5 1900.3,1427.3 1900.6,1466.9 1900.9,1437.6 1901.2,1450.3 1901.5,1422.2 1901.8,1445.5 1902.1,1456.8 1902.4,1428.1 1902.7,1462.9 1903.0,1457.2 1903.3,1421.3 1903.6,1480.3 1903.9,1409.6 1904.2,1448.3 1904.5,1462.1 1904.8,1438.6 1905.1,1433.1 1905.4,1463.0 1905.7,1457.0 1906.0,1438.8 1906.3,1443.3 1906.6,1465.6 1906.9,1488.2 1907.2,1497.5 1907.5,1492.0 1907.8,1462.7 1908.1,1468.3 1908.4,1478.2 1908.7,1454.0 1909.0,1500.1 1909.3,1504.8 1909.6,1506.9 1909.9,1448.3 1910.2,1568.5 1910.5,1490.9 1910.8,1487.1 1911.1,1498.3 1911.4,1440.6 1911.7,1467.9 1912.0,1477.8 1912.3,1526.9 1912.6,1483.6 1912.9,1507.8 1913.2,1494.1 1913.5,1488.2 1913.8,1506.9 1914.1,1473.7 1914.4,1447.7 1914.7,1460.9 1915.0,1481.3 1915.3,1549.6 1915.6,1457.0 1915.9,1456.7 1916.2,1490.3 1916.5,1498.8 1916.8,1467.3 1917.1,1510.2 1917.4,1464.9 1917.7,1521.4 1918.0,1517.7 1918.3,1490.2 1918.6,1540.9 1918.9,1494.4 1919.2,1481.0 1919.5,1543.7 1919.8,1474.1 1920.1,1522.0 1920.4,1489.1 1920.7,1501.5 1921.0,1526.0 1921.3,1530.9 1921.6,1679.7 1921.9,1542.1 1922.2,1547.3 1922.5,1471.4 1922.8,1490.7 1923.1,1579.5 1923.4,1500.6 1923.7,1513.9 1924.0,1544.5 1924.3,1515.9 1924.6,1506.2 1924.9,1555.8 1925.2,1544.7 1925.5,1528.5 1925.8,1573.0 1926.1,1526.0 1926.4,1533.7 1926.7,1553.8 1927.0,1556.6 1927.3,1511.2 1927.6,1489.7 1927.9,1502.0 1928.2,1537.1 1928.5,1480.5 1928.8,1492.7 1929.1,1476.0 1929.4,1456.9 1929.7,1511.8 1930.0,1484.5 1930.3,1494.6 1930.6,1500.3 1930.9,1424.6 1931.2,1447.9 1931.5,1525.1 1931.8,1460.2 1932.1,1487.6 1932.4,1444.2 1932.7,1472.6 1933.0,1481.8 1933.3,1475.1 1933.6,1470.8 1933.9,1482.7 1934.2,1492.1 1934.5,1491.6 1934.8,1474.7 1935.1,1526.7 1935.4,1491.6 1935.7,1495.9 1936.0,1508.0 1936.3,1472.7 1936.6,1537.2 1936.9,1506.7 1937.2,1524.3 1937.5,1482.4 1937.8,1515.8 1938.1,1502.1 1938.4,1495.1 1938.7,1570.7 1939.0,1501.1 1939.3,1547.8 1939.6,1535.1 1939.9,1539.8 1940.2,1509.3 1940.5,1516.3 1940.8,1488.4 1941.1,1544.9 1941.4,1575.4 1941.7,1579.4 1942.0,1534.3 1942.3,1502.8 1942.6,1533.1 1942.9,1582.2 1943.2,1544.0 1943.5,1541.4 1943.8,1544.6 1944.1,1572.7 1944.4,1662.0 1944.7,1553.5 1945.0,1494.5 1945.3,1517.3 1945.6,1613.8 1945.9,1517.5 1946.2,1587.5 1946.5,1456.5 1946.8,1506.2 1947.1,1555.5 1947.4,1488.0 1947.7,1541.4 1948.0,1498.2 1948.3,1518.4 1948.6,1567.9 1948.9,1505.4 1949.2,1587.9 1949.5,1494.6 1949.8,1543.9 1950.1,1599.5 1950.4,1655.0 1950.7,1510.5 1951.0,1522.7 1951.3,1657.7 1951.6,1528.8 1951.9,1596.5 1952.2,1623.7 1952.5,1622.2 1952.8,1636.9 1953.1,1556.5 1953.4,1616.5 1953.7,1731.6 1954.0,1529.5 1954.3,1574.3 1954.6,1679.0 1954.9,1625.6 1955.2,1651.2 1955.5,1592.3 1955.8,1570.9 1956.1,1572.5 1956.4,1606.6 1956.7,1611.9 1957.0,1536.1 1957.3,1570.7 1957.6,1486.2 1957.9,1598.1 1958.2,1530.1 1958.5,1557.2 1958.8,1592.1 1959.1,1509.2 1959.4,1553.5 1959.7,1598.9 1960.0,1572.9 1960.3,1522.1 1960.6,1618.8 1960.9,1511.6 1961.2,1536.4 1961.5,1576.2 1961.8,1514.8 1962.1,1503.1 1962.4,1543.5 1962.7,1561.6 1963.0,1502.6 1963.3,1514.7 1963.6,1617.2 1963.9,1582.9 1964.2,1584.5 1964.5,1595.0 1964.8,1657.3 1965.1,1541.0 1965.4,1574.9 1965.7,1574.8 1966.0,1524.0 1966.3,1606.8 1966.6,1582.0 1966.9,1567.1 1967.2,1599.1 1967.5,1583.2 1967.8,1545.9 1968.1,1577.8 1968.4,1524.9 1968.7,1658.5 1969.0,1569.1 1969.3,1655.5 1969.6,1585.3 1969.9,1616.2 1970.2,1528.3 1970.5,1553.0 1970.8,1564.2 1971.1,1515.7 1971.4,1530.7 1971.7,1559.6 1972.0,1628.5"/>
<line stroke="#00f" stroke-width="9.5" x1="1063.2" y1="517.9" x2="1063.6" y2="513.9"/>
<line stroke="#00f" stroke-width="9.5" x1="1065.3" y1="477.6" x2="1065.7" y2="473.6"/>
<line stroke="#00f" stroke-width="9.5" x1="1069.3" y1="440.6" x2="1071.5" y2="437.2"/>
<line stroke="#00f" stroke-width="9.5" x1="1092.7" y1="444.3" x2="1095.5" y2="447.1"/>
<line stroke="#00f" stroke-width="9.5" x1="1117.3" y1="466.3" x2="1120.1" y2="469.1"/>
<line stroke="#00f" stroke-width="9.5" x1="1143.1" y1="492.2" x2="1145.9" y2="495.0"/>
<line stroke="#00f" stroke-width="9.5" x1="1162.2" y1="509.9" x2="1165.0" y2="512.7"/>
<line stroke="#00f" stroke-width="9.5" x1="1182.6" y1="531.4" x2="1185.4" y2="534.2"/>
<line stroke="#00f" stroke-width="9.5" x1="1200.3" y1="547.2" x2="1203.1" y2="550.0"/>
<line stroke="#00f" stroke-width="9.5" x1="1220.2" y1="567.1" x2="1223.0" y2="569.9"/>
<line stroke="#00f" stroke-width="9.5" x1="1237.1" y1="583.2" x2="1239.9" y2="586.0"/>
<line stroke="#00f" stroke-width="9.5" x1="1254.4" y1="600.3" x2="1257.2" y2="603.1"/>
<line stroke="#00f" stroke-width="9.5" x1="1272.5" y1="617.1" x2="1275.3" y2="619.9"/>
<line stroke="#00f" stroke-width="9.5" x1="1293.0" y1="636.9" x2="1295.8" y2="639.7"/>
<line stroke="#00f" stroke-width="9.5" x1="1311.2" y1="655.8" x2="1314.0" y2="658.6"/>
<line stroke="#00f" stroke-width="9.5" x1="1328.9" y1="674.0" x2="1331.7" y2="676.8"/>
<line stroke="#00f" stroke-width="9.5" x1="1346.6" y1="694.5" x2="1349.4" y2="697.3"/>
<line stroke="#00f" stroke-width="9.5" x1="1363.8" y1="713.0" x2="1366.6" y2="715.8"/>
<line stroke="#00f" stroke-width="9.5" x1="1382.6" y1="734.0" x2="1385.4" y2="736.8"/>
<line stroke="#00f" stroke-width="9.5" x1="1396.5" y1="750.3" x2="1399.3" y2="753.1"/>
<line stroke="#00f" stroke-width="9.5" x1="1413.4" y1="769.6" x2="1416.2" y2="772.4"/>
<line stroke="#00f" stroke-width="9.5" x1="1428.3" y1="785.7" x2="1431.1" y2="788.5"/>
<line stroke="#00f" stroke-width="9.5" x1="1440.6" y1="800.7" x2="1443.4" y2="803.5"/>
<line stroke="#00f" stroke-width="9.5" x1="1454.7" y1="815.3" x2="1457.5" y2="818.1"/>
<line stroke="#00f" stroke-width="9.5" x1="1465.4" y1="826.5" x2="1468.2" y2="829.3"/>
<line stroke="#00f" stroke-width="9.5" x1="1479.0" y1="843.1" x2="1481.8" y2="845.9"/>
<line stroke="#00f" stroke-width="9.5" x1="1488.3" y1="851.2" x2="1491.1" y2="854.0"/>
<line stroke="#00f" stroke-width="9.5" x1="1499.2" y1="864.8" x2="1502.0" y2="867.6"/>
<line stroke="#00f" stroke-width="9.5" x1="1510.6" y1="876.2" x2="1513.4" y2="879.0"/>
<line stroke="#00f" stroke-width="9.5" x1="1521.5" y1="890.4" x2="1524.3" y2="893.2"/>
<line stroke="#00f" stroke-width="9.5" x1="1529.7" y1="895.8" x2="1532.5" y2="898.6"/>
<line stroke="#00f" stroke-width="9.5" x1="1538.4" y1="907.5" x2="1541.2" y2="910.3"/>
<line stroke="#00f" stroke-width="9.5" x1="1547.4" y1="916.3" x2="1550.2" y2="919.1"/>
<line stroke="#00f" stroke-width="9.5" x1="1555.0" y1="924.4" x2="1557.8" y2="927.2"/>
<line stroke="#00f" stroke-width="9.5" x1="1562.4" y1="932.1" x2="1565.2" y2="934.9"/>
<line stroke="#00f" stroke-width="9.5" x1="1569.2" y1="938.0" x2="1572.0" y2="940.8"/>
<polyline stroke="#00f" stroke-width="9.5" points="1576.0,944.9 1576.3,946.8 1576.6,944.9 1576.9,946.1 1577.2,946.4 1577.5,943.9 1577.8,946.8 1578.1,947.8 1578.4,948.4 1578.7,947.9 1579.0,947.3 1579.3,949.1 1579.6,949.8 1579.9,948.4 1580.2,949.5 1580.5,949.9 1580.8,948.4 1581.1,951.7 1581.4,950.7 1581.7,952.9 1582.0,951.9 1582.3,951.4 1582.6,951.3 1582.9,953.8 1583.2,952.3 1583.5,952.7 1583.8,953.9 1584.1,951.9 1584.4,954.5 1584.7,955.7 1585.0,954.9 1585.3,957.4 1585.6,954.6 1585.9,955.5 1586.2,957.2 1586.5,956.7 1586.8,957.1 1587.1,956.2 1587.4,959.5 1587.7,959.9 1588.0,962.9 1588.3,959.7 1588.6,961.2 1588.9,960.2 1589.2,959.9 1589.5,961.0 1589.8,961.8 1590.1,960.1 1590.4,961.7 1590.7,961.5 1591.0,961.1 1591.3,963.6 1591.6,963.5 1591.9,960.5 1592.2,963.4 1592.5,964.5 1592.8,964.1 1593.1,964.7 1593.4,965.6 1593.7,965.1 1594.0,965.1 1594.3,965.4 1594.6,965.1 1594.9,967.7 1595.2,967.7 1595.5,965.8 1595.8,967.2 1596.1,965.9 1596.4,967.0 1596.7,969.0 1597.0,967.3 1597.3,970.1 1597.6,968.0 1597.9,967.3 1598.2,966.7 1598.5,969.1 1598.8,968.5 1599.1,969.2 1599.4,968.9 1599.7,972.6 1600.0,970.7 1600.3,970.3 1600.6,970.4 1600.9,971.9 1601.2,970.7 1601.5,970.7 1601.8,972.1 1602.1,972.8 1602.4,973.4 1602.7,973.3 1603.0,972.6 1603.3,972.8 1603.6,975.2 1603.9,976.1 1604.2,976.4 1604.5,975.0 1604.8,976.2 1605.1,976.1 1605.4,976.6 1605.7,977.0 1606.0,977.9 1606.3,979.1 1606.6,978.9 1606.9,978.4 1607.2,978.3 1607.5,979.4 1607.8,979.6 1608.1,978.0 1608.4,980.1 1608.7,979.6 1609.0,980.4 1609.3,981.2 1609.6,982.1 1609.9,981.4 1610.2,981.9 1610.5,980.4 1610.8,982.8 1611.1,982.3 1611.4,981.4 1611.7,982.5 1612.0,981.5 1612.3,982.0 1612.6,984.9 1612.9,983.9 1613.2,984.7 1613.5,982.5 1613.8,984.3 1614.1,983.9 1614.4,982.9 1614.7,985.4 1615.0,985.2 1615.3,985.1 1615.6,986.1 1615.9,984.8 1616.2,985.6 1616.5,985.7 1616.8,987.0 1617.1,987.7 1617.4,988.0 1617.7,988.2 1618.0,989.9 1618.3,987.9 1618.6,987.6 1618.9,988.7 1619.2,989.4 1619.5,989.0 1619.8,989.0 1620.1,989.0 1620.4,987.6 1620.7,990.7 1621.0,989.5 1621.3,989.3 1621.6,990.2 1621.9,990.7 1622.2,991.8 1622.5,991.6 1622.8,990.4 1623.1,989.8 1623.4,992.4 1623.7,991.5 1624.0,991.8 1624.3,991.5 1624.6,992.7 1624.9,992.9 1625.2,992.8 1625.5,995.5 1625.8,994.5 1626.1,996.9 1626.4,997.6 1626.7,996.7 1627.0,997.9 1627.3,995.9 1627.6,995.8 1627.9,997.6 1628.2,997.8 1628.5,998.3 1628.8,998.7 1629.1,998.7 1629.4,998.8 1629.7,1000.2 1630.0,1001.0 1630.3,1001.1 1630.6,1000.0 1630.9,1001.9 1631.2,1000.2 1631.5,1002.6 1631.8,1001.2 1632.1,1004.7 1632.4,1004.7 1632.7,1003.8 1633.0,1004.3 1633.3,1005.6 1633.6,1003.5 1633.9,1006.3 1634.2,1006.6 1634.5,1008.1 1634.8,1005.8 1635.1,1007.2 1635.4,1008.1 1635.7,1011.0 1636.0,1008.9 1636.3,1010.3 1636.6,1009.5 1636.9,1009.2 1637.2,1011.5 1637.5,1010.6 1637.8,1010.0 1638.1,1011.2 1638.4,1012.0 1638.7,1013.2 1639.0,1013.8 1639.3,1014.0 1639.6,1011.6 1639.9,1013.0 1640.2,1015.0 1640.5,1013.8 1640.8,1015.8 1641.1,1018.6 1641.4,1013.4 1641.7,1013.8 1642.0,1017.5 1642.3,1016.9 1642.6,1016.1 1642.9,1017.2 1643.2,1018.1 1643.5,1018.0 1643.8,1018.0 1644.1,1018.8 1644.4,1018.2 1644.7,1019.1 1645.0,1021.1 1645.3,1019.5 1645.6,1022.1 1645.9,1018.5 1646.2,1023.0 1646.5,1021.3 1646.8,1021.2 1647.1,1021.5 1647.4,1022.2 1647.7,1021.3 1648.0,1024.8 1648.3,1023.9 1648.6,1024.0 1648.9,1025.3 1649.2,1025.8 1649.5,1023.8 1649.8,1026.8 1650.1,1026.8 1650.4,1026.9 1650.7,1027.2 1651.0,1027.0 1651.3,1027.9 1651.6,1027.4 1651.9,1028.1 1652.2,1028.0 1652.5,1027.1 1652.8,1030.4 1653.1,1027.4 1653.4,1030.5 1653.7,1029.3 1654.0,1030.1 1654.3,1031.2 1654.6,1033.7 1654.9,1029.2 1655.2,1032.6 1655.5,1032.8 1655.8,1029.1 1656.1,1032.0 1656.4,1029.7 1656.7,1030.2 1657.0,1031.6 1657.3,1032.4 1657.6,1031.9 1657.9,1034.8 1658.2,1033.0 1658.5,1033.2 1658.8,1034.3 1659.1,1033.5 1659.4,1036.1 1659.7,1033.1 1660.0,1032.9 1660.3,1036.7 1660.6,1035.0 1660.9,1033.4 1661.2,1035.2 1661.5,1037.5 1661.8,1037.8 1662.1,1035.5 1662.4,1034.5 1662.7,1040.3 1663.0,1037.6 1663.3,1039.0 1663.6,1038.6 1663.9,1038.1 1664.2,1038.8 1664.5,1040.0 1664.8,1036.4 1665.1,1039.8 1665.4,1040.1 1665.7,1038.5 1666.0,1040.3 1666.3,1040.8 1666.6,1039.4 1666.9,1042.4 1667.2,1040.1 1667.5,1040.0 1667.8,1040.7 1668.1,1042.1 1668.4,1042.1 1668.7,1044.7 1669.0,1042.7 1669.3,1042.3 1669.6,1041.7 1669.9,1043.0 1670.2,1043.9 1670.5,1044.8 1670.8,1043.9 1671.1,1043.8 1671.4,1042.5 1671.7,1044.4 1672.0,1045.4 1672.3,1045.0 1672.6,1045.7 1672.9,1045.6 1673.2,1048.6 1673.5,1047.9 1673.8,1047.5 1674.1,1045.3 1674.4,1046.3 1674.7,1046.1 1675.0,1044.8 1675.3,1048.2 1675.6,1045.2 1675.9,1046.5 1676.2,1048.3 1676.5,1045.3 1676.8,1049.7 1677.1,1049.6 1677.4,1048.5 1677.7,1047.9 1678.0,1049.1 1678.3,1052.3 1678.6,1049.9 1678.9,1050.0 1679.2,1046.6 1679.5,1048.7 1679.8,1051.0 1680.1,1053.3 1680.4,1051.6 1680.7,1054.3 1681.0,1052.8 1681.3,1053.0 1681.6,1054.6 1681.9,1054.1 1682.2,1055.4 1682.5,1057.0 1682.8,1053.5 1683.1,1055.3 1683.4,1057.0 1683.7,1058.1 1684.0,1057.1 1684.3,1056.9 1684.6,1056.9 1684.9,1056.3 1685.2,1058.3 1685.5,1061.1 1685.8,1056.7 1686.1,1058.5 1686.4,1059.4 1686.7,1059.1 1687.0,1063.9 1687.3,1062.6 1687.6,1063.3 1687.9,1061.1 1688.2,1065.2 1688.5,1064.2 1688.8,1061.7 1689.1,1063.4 1689.4,1065.4 1689.7,1062.1 1690.0,1067.5 1690.3,1064.9 1690.6,1066.2 1690.9,1065.3 1691.2,1066.8 1691.5,1067.9 1691.8,1066.5 1692.1,1069.1 1692.4,1066.4 1692.7,1068.0 1693.0,1064.8 1693.3,1068.8 1693.6,1069.4 1693.9,1068.0 1694.2,1066.9 1694.5,1072.5 1694.8,1069.3 1695.1,1068.7 1695.4,1072.4 1695.7,1071.8 1696.0,1069.6 1696.3,1072.4 1696.6,1072.4 1696.9,1068.9 1697.2,1073.6 1697.5,1073.8 1697.8,1076.6 1698.1,1075.0 1698.4,1075.6 1698.7,1071.1 1699.0,1072.3 1699.3,1076.8 1699.6,1071.8 1699.9,1074.1 1700.2,1076.0 1700.5,1074.7 1700.8,1075.7 1701.1,1077.9 1701.4,1079.8 1701.7,1078.6 1702.0,1077.3 1702.3,1078.1 1702.6,1079.0 1702.9,1076.3 1703.2,1079.9 1703.5,1076.8 1703.8,1079.3 1704.1,1078.5 1704.4,1080.8 1704.7,1079.2 1705.0,1080.7 1705.3,1082.6 1705.6,1079.8 1705.9,1080.1 1706.2,1078.9 1706.5,1080.0 1706.8,1082.5 1707.1,1082.0 1707.4,1085.5 1707.7,1083.4 1708.0,1079.4 1708.3,1079.3 1708.6,1080.8 1708.9,1081.8 1709.2,1081.5 1709.5,1081.9 1709.8,1086.0 1710.1,1084.7 1710.4,1081.3 1710.7,1081.5 1711.0,1083.4 1711.3,1084.5 1711.6,1084.9 1711.9,1085.4 1712.2,1086.3 1712.5,1088.3 1712.8,1084.6 1713.1,1086.2 1713.4,1086.1 1713.7,1083.0 1714.0,1085.2 1714.3,1089.0 1714.6,1085.8 1714.9,1089.8 1715.2,1085.5 1715.5,1087.2 1715.8,1088.3 1716.1,1087.2 1716.4,1085.8 1716.7,1089.5 1717.0,1090.7 1717.3,1085.4 1717.6,1089.4 1717.9,1087.0 1718.2,1091.2 1718.5,1089.6 1718.8,1091.7 1719.1,1089.7 1719.4,1091.7 1719.7,1092.8 1720.0,1089.2 1720.3,1091.8 1720.6,1096.7 1720.9,1093.8 1721.2,1095.6 1721.5,1096.6 1721.8,1096.0 1722.1,1096.3 1722.4,1095.8 1722.7,1097.9 1723.0,1100.3 1723.3,1098.3 1723.6,1096.0 1723.9,1100.6 1724.2,1097.2 1724.5,1097.9 1724.8,1099.9 1725.1,1098.7 1725.4,1101.0 1725.7,1100.5 1726.0,1102.0 1726.3,1099.3 1726.6,1097.8 1726.9,1101.9 1727.2,1098.5 1727.5,1105.1 1727.8,1102.9 1728.1,1103.4 1728.4,1098.3 1728.7,1103.0 1729.0,1100.6 1729.3,1106.4 1729.6,1102.4 1729.9,1101.9 1730.2,1103.3 1730.5,1108.9 1730.8,1103.5 1731.1,1102.5 1731.4,1101.8 1731.7,1103.9 1732.0,1108.3 1732.3,1105.6 1732.6,1103.7 1732.9,1107.3 1733.2,1104.8 1733.5,1107.1 1733.8,1106.2 1734.1,1105.1 1734.4,1108.3 1734.7,1101.5 1735.0,1107.1 1735.3,1106.9 1735.6,1109.4 1735.9,1108.1 1736.2,1109.1 1736.5,1111.9 1736.8,1112.4 1737.1,1109.1 1737.4,1110.3 1737.7,1115.9 1738.0,1115.3 1738.3,1111.9 1738.6,1111.8 1738.9,1110.8 1739.2,1114.9 1739.5,1111.5 1739.8,1113.6 1740.1,1114.3 1740.4,1113.8 1740.7,1111.8 1741.0,1112.9 1741.3,1112.4 1741.6,1115.9 1741.9,1115.3 1742.2,1117.3 1742.5,1116.3 1742.8,1116.2 1743.1,1116.6 1743.4,1114.5 1743.7,1115.4 1744.0,1115.1 1744.3,1116.8 1744.6,1115.2 1744.9,1117.6 1745.2,1116.3 1745.5,1117.7 1745.8,1117.7 1746.1,1119.9 1746.4,1122.8 1746.7,1123.8 1747.0,1117.0 1747.3,1120.7 1747.6,1121.0 1747.9,1122.8 1748.2,1123.8 1748.5,1117.1 1748.8,1126.1 1749.1,1124.2 1749.4,1124.5 1749.7,1127.3 1750.0,1128.0 1750.3,1127.1 1750.6,1126.6 1750.9,1127.3 1751.2,1124.8 1751.5,1129.5 1751.8,1126.3 1752.1,1124.3 1752.4,1125.9 1752.7,1130.7 1753.0,1135.2 1753.3,1126.9 1753.6,1128.0 1753.9,1130.7 1754.2,1126.9 1754.5,1130.9 1754.8,1130.0 1755.1,1132.8 1755.4,1130.0 1755.7,1131.8 1756.0,1132.2 1756.3,1128.8 1756.6,1130.9 1756.9,1135.0 1757.2,1130.2 1757.5,1130.0 1757.8,1134.0 1758.1,1133.2 1758.4,1132.3 1758.7,1133.2 1759.0,1132.6 1759.3,1131.7 1759.6,1134.5 1759.9,1129.0 1760.2,1135.6 1760.5,1135.6 1760.8,1130.2 1761.1,1129.6 1761.4,1135.4 1761.7,1136.3 1762.0,1138.8 1762.3,1134.2 1762.6,1136.9 1762.9,1139.7 1763.2,1137.3 1763.5,1135.6 1763.8,1137.6 1764.1,1134.6 1764.4,1137.5 1764.7,1139.6 1765.0,1141.1 1765.3,1140.2 1765.6,1139.0 1765.9,1140.2 1766.2,1140.0 1766.5,1142.3 1766.8,1141.3 1767.1,1140.5 1767.4,1144.1 1767.7,1147.1 1768.0,1140.1 1768.3,1143.1 1768.6,1145.9 1768.9,1144.6 1769.2,1146.0 1769.5,1149.9 1769.8,1146.5 1770.1,1149.9 1770.4,1146.2 1770.7,1147.3 1771.0,1144.6 1771.3,1148.0 1771.6,1147.1 1771.9,1149.1 1772.2,1149.6 1772.5,1152.5 1772.8,1146.9 1773.1,1149.3 1773.4,1151.5 1773.7,1149.9 1774.0,1151.9 1774.3,1153.1 1774.6,1151.0 1774.9,1149.1 1775.2,1153.2 1775.5,1156.6 1775.8,1155.0 1776.1,1149.4 1776.4,1156.4 1776.7,1151.7 1777.0,1155.7 1777.3,1153.5 1777.6,1156.0 1777.9,1160.1 1778.2,1157.3 1778.5,1151.1 1778.8,1156.9 1779.1,1155.3 1779.4,1157.7 1779.7,1157.3 1780.0,1156.2 1780.3,1155.9 1780.6,1151.6 1780.9,1157.3 1781.2,1157.9 1781.5,1159.3 1781.8,1161.2 1782.1,1162.2 1782.4,1156.5 1782.7,1163.4 1783.0,1155.2 1783.3,1156.9 1783.6,1160.3 1783.9,1166.1 1784.2,1160.4 1784.5,1160.9 1784.8,1158.5 1785.1,1163.9 1785.4,1163.5 1785.7,1163.1 1786.0,1164.2 1786.3,1165.7 1786.6,1169.1 1786.9,1169.3 1787.2,1167.1 1787.5,1166.3 1787.8,1163.4 1788.1,1160.3 1788.4,1162.2 1788.7,1166.0 1789.0,1162.4 1789.3,1168.1 1789.6,1169.5 1789.9,1162.2 1790.2,1171.8 1790.5,1170.4 1790.8,1170.4 1791.1,1166.1 1791.4,1173.9 1791.7,1169.0 1792.0,1172.8 1792.3,1175.6 1792.6,1172.1 1792.9,1172.8 1793.2,1177.1 1793.5,1176.8 1793.8,1177.2 1794.1,1172.7 1794.4,1174.7 1794.7,1175.9 1795.0,1175.7 1795.3,1179.0 1795.6,1176.8 1795.9,1180.4 1796.2,1183.0 1796.5,1181.7 1796.8,1179.6 1797.1,1180.4 1797.4,1178.1 1797.7,1186.7 1798.0,1182.8 1798.3,1181.5 1798.6,1186.0 1798.9,1182.8 1799.2,1185.2 1799.5,1187.8 1799.8,1181.5 1800.1,1189.3 1800.4,1182.5 1800.7,1187.1 1801.0,1188.9 1801.3,1189.1 1801.6,1188.9 1801.9,1189.5 1802.2,1186.4 1802.5,1193.3 1802.8,1184.2 1803.1,1185.8 1803.4,1184.5 1803.7,1192.1 1804.0,1196.8 1804.3,1192.1 1804.6,1191.3 1804.9,1190.5 1805.2,1193.6 1805.5,1193.0 1805.8,1193.0 1806.1,1199.0 1806.4,1189.3 1806.7,1199.0 1807.0,1195.3 1807.3,1193.3 1807.6,1202.2 1807.9,1197.7 1808.2,1193.0 1808.5,1199.3 1808.8,1195.4 1809.1,1197.9 1809.4,1198.2 1809.7,1196.6 1810.0,1199.6 1810.3,1199.4 1810.6,1195.6 1810.9,1197.6 1811.2,1196.7 1811.5,1201.9 1811.8,1197.8 1812.1,1193.9 1812.4,1194.8 1812.7,1196.5 1813.0,1199.3 1813.3,1199.7 1813.6,1196.5 1813.9,1193.6 1814.2,1198.2 1814.5,1194.5 1814.8,1199.9 1815.1,1195.6 1815.4,1203.0 1815.7,1199.6 1816.0,1204.0 1816.3,1198.8 1816.6,1199.5 1816.9,1204.8 1817.2,1204.5 1817.5,1203.9 1817.8,1207.7 1818.1,1206.2 1818.4,1206.3 1818.7,1201.3 1819.0,1199.7 1819.3,1206.1 1819.6,1206.0 1819.9,1204.8 1820.2,1207.8 1820.5,1207.5 1820.8,1204.4 1821.1,1207.0 1821.4,1208.8 1821.7,1211.1 1822.0,1205.0 1822.3,1212.7 1822.6,1211.0 1822.9,1215.7 1823.2,1214.9 1823.5,1213.3 1823.8,1215.6 1824.1,1213.1 1824.4,1215.3 1824.7,1221.0 1825.0,1224.9 1825.3,1213.8 1825.6,1219.8 1825.9,1213.0 1826.2,1218.5 1826.5,1221.6 1826.8,1217.3 1827.1,1220.6 1827.4,1220.0 1827.7,1223.7 1828.0,1218.4 1828.3,1217.1 1828.6,1223.2 1828.9,1215.4 1829.2,1224.0 1829.5,1221.4 1829.8,1228.6 1830.1,1229.9 1830.4,1215.7 1830.7,1218.4 1831.0,1219.6 1831.3,1230.1 1831.6,1223.3 1831.9,1222.7 1832.2,1224.1 1832.5,1223.4 1832.8,1228.0 1833.1,1225.3 1833.4,1229.0 1833.7,1226.1 1834.0,1223.6 1834.3,1227.8 1834.6,1226.0 1834.9,1226.7 1835.2,1225.0 1835.5,1222.0 1835.8,1224.6 1836.1,1224.3 1836.4,1231.3 1836.7,1227.6 1837.0,1223.7 1837.3,1230.3 1837.6,1229.2 1837.9,1231.8 1838.2,1223.9 1838.5,1231.1 1838.8,1232.8 1839.1,1228.5 1839.4,1227.4 1839.7,1230.4 1840.0,1229.3 1840.3,1233.0 1840.6,1235.0 1840.9,1236.9 1841.2,1237.9 1841.5,1239.0 1841.8,1235.9 1842.1,1238.4 1842.4,1238.3 1842.7,1236.9 1843.0,1240.0 1843.3,1245.7 1843.6,1243.9 1843.9,1245.6 1844.2,1249.2 1844.5,1241.5 1844.8,1247.1 1845.1,1247.7 1845.4,1247.2 1845.7,1239.6 1846.0,1245.8 1846.3,1239.7 1846.6,1244.2 1846.9,1245.9 1847.2,1242.2 1847.5,1242.3 1847.8,1244.6 1848.1,1249.6 1848.4,1247.6 1848.7,1250.9 1849.0,1247.6 1849.3,1246.6 1849.6,1241.4 1849.9,1242.2 1850.2,1245.6 1850.5,1244.9 1850.8,1248.4 1851.1,1238.7 1851.4,1244.2 1851.7,1240.2 1852.0,1249.9 1852.3,1250.3 1852.6,1248.2 1852.9,1252.3 1853.2,1252.3 1853.5,1258.3 1853.8,1250.7 1854.1,1254.6 1854.4,1252.3 1854.7,1257.2 1855.0,1264.5 1855.3,1255.2 1855.6,1252.9 1855.9,1264.0 1856.2,1263.2 1856.5,1260.9 1856.8,1261.3 1857.1,1268.5 1857.4,1254.1 1857.7,1258.0 1858.0,1265.9 1858.3,1272.1 1858.6,1263.1 1858.9,1256.9 1859.2,1262.8 1859.5,1262.2 1859.8,1272.4 1860.1,1267.9 1860.4,1276.6 1860.7,1261.5 1861.0,1268.4 1861.3,1281.5 1861.6,1280.8 1861.9,1270.3 1862.2,1272.3 1862.5,1274.7 1862.8,1270.8 1863.1,1264.8 1863.4,1272.6 1863.7,1283.2 1864.0,1275.8 1864.3,1281.7 1864.6,1279.7 1864.9,1274.8 1865.2,1277.6 1865.5,1282.4 1865.8,1278.0 1866.1,1282.2 1866.4,1276.3 1866.7,1280.3 1867.0,1277.7 1867.3,1281.2 1867.6,1276.6 1867.9,1281.1 1868.2,1280.8 1868.5,1283.7 1868.8,1279.8 1869.1,1290.2 1869.4,1269.1 1869.7,1285.3 1870.0,1281.9 1870.3,1285.1 1870.6,1285.7 1870.9,1281.9 1871.2,1287.0 1871.5,1287.4 1871.8,1293.0 1872.1,1291.5 1872.4,1293.7 1872.7,1279.9 1873.0,1296.5 1873.3,1296.1 1873.6,1289.7 1873.9,1285.4 1874.2,1302.5 1874.5,1302.7 1874.8,1294.9 1875.1,1294.8 1875.4,1305.0 1875.7,1308.0 1876.0,1304.3 1876.3,1296.0 1876.6,1300.9 1876.9,1297.4 1877.2,1302.5 1877.5,1302.6 1877.8,1299.6 1878.1,1303.9 1878.4,1302.3 1878.7,1308.8 1879.0,1307.3 1879.3,1301.7 1879.6,1305.7 1879.9,1308.6 1880.2,1301.1 1880.5,1301.8 1880.8,1305.0 1881.1,1309.3 1881.4,1300.5 1881.7,1292.3 1882.0,1310.3 1882.3,1314.6 1882.6,1310.5 1882.9,1311.6 1883.2,1313.7 1883.5,1313.5 1883.8,1302.5 1884.1,1302.6 1884.4,1299.4 1884.7,1303.5 1885.0,1310.3 1885.3,1301.9 1885.6,1311.4 1885.9,1310.1 1886.2,1315.0 1886.5,1301.9 1886.8,1303.4 1887.1,1311.9 1887.4,1311.5 1887.7,1310.1 1888.0,1309.7 1888.3,1306.8 1888.6,1311.8 1888.9,1310.7 1889.2,1322.4 1889.5,1316.3 1889.8,1325.9 1890.1,1306.2 1890.4,1309.2 1890.7,1313.8 1891.0,1312.4 1891.3,1308.2 1891.6,1314.9 1891.9,1330.8 1892.2,1323.2 1892.5,1337.2 1892.8,1328.4 1893.1,1331.9 1893.4,1325.1 1893.7,1323.5 1894.0,1332.3 1894.3,1329.1 1894.6,1326.4 1894.9,1329.8 1895.2,1330.6 1895.5,1345.5 1895.8,1333.6 1896.1,1326.6 1896.4,1330.5 1896.7,1342.2 1897.0,1335.1 1897.3,1332.3 1897.6,1340.8 1897.9,1331.0 1898.2,1341.0 1898.5,1338.6 1898.8,1337.8 1899.1,1324.0 1899.4,1340.5 1899.7,1342.7 1900.0,1335.1 1900.3,1343.4 1900.6,1339.8 1900.9,1357.0 1901.2,1340.5 1901.5,1343.3 1901.8,1352.7 1902.1,1335.8 1902.4,1347.1 1902.7,1347.7 1903.0,1356.3 1903.3,1359.4 1903.6,1352.8 1903.9,1372.1 1904.2,1347.1 1904.5,1345.3 1904.8,1356.4 1905.1,1364.2 1905.4,1355.9 1905.7,1361.3 1906.0,1352.9 1906.3,1353.2 1906.6,1357.8 1906.9,1354.5 1907.2,1348.0 1907.5,1343.7 1907.8,1359.6 1908.1,1350.9 1908.4,1358.0 1908.7,1364.3 1909.0,1339.1 1909.3,1354.0 1909.6,1356.0 1909.9,1354.6 1910.2,1358.5 1910.5,1365.2 1910.8,1344.7 1911.1,1350.9 1911.4,1355.5 1911.7,1350.4 1912.0,1348.1 1912.3,1358.8 1912.6,1353.1 1912.9,1359.9 1913.2,1353.0 1913.5,1359.9 1913.8,1340.9 1914.1,1361.5 1914.4,1355.5 1914.7,1356.6 1915.0,1363.3 1915.3,1354.5 1915.6,1363.1 1915.9,1366.5 1916.2,1364.1 1916.5,1370.9 1916.8,1356.6 1917.1,1361.6 1917.4,1359.5 1917.7,1378.7 1918.0,1366.0 1918.3,1374.9 1918.6,1368.3 1918.9,1359.4 1919.2,1367.6 1919.5,1371.4 1919.8,1361.4 1920.1,1362.6 1920.4,1356.4 1920.7,1387.1 1921.0,1369.1 1921.3,1379.5 1921.6,1380.0 1921.9,1372.2 1922.2,1383.5 1922.5,1393.5 1922.8,1382.2 1923.1,1377.1 1923.4,1360.2 1923.7,1381.9 1924.0,1386.2 1924.3,1393.9 1924.6,1379.8 1924.9,1381.6 1925.2,1376.3 1925.5,1390.8 1925.8,1385.1 1926.1,1399.6 1926.4,1378.3 1926.7,1394.6 1927.0,1407.0 1927.3,1372.4 1927.6,1379.0 1927.9,1381.6 1928.2,1382.9 1928.5,1397.0 1928.8,1379.3 1929.1,1400.3 1929.4,1374.9 1929.7,1391.4 1930.0,1413.2 1930.3,1388.3 1930.6,1379.6 1930.9,1401.5 1931.2,1390.0 1931.5,1403.2 1931.8,1408.3 1932.1,1430.1 1932.4,1391.5 1932.7,1408.6 1933.0,1400.8 1933.3,1416.7 1933.6,1414.7 1933.9,1394.8 1934.2,1410.1 1934.5,1410.7 1934.8,1420.4 1935.1,1405.5 1935.4,1400.4 1935.7,1413.8 1936.0,1411.7 1936.3,1423.7 1936.6,1397.1 1936.9,1418.8 1937.2,1414.6 1937.5,1396.5 1937.8,1416.9 1938.1,1432.4 1938.4,1425.8 1938.7,1419.9 1939.0,1397.8 1939.3,1414.0 1939.6,1418.9 1939.9,1407.6 1940.2,1402.6 1940.5,1424.6 1940.8,1400.8 1941.1,1406.5 1941.4,1410.7 1941.7,1442.9 1942.0,1413.1 1942.3,1400.5 1942.6,1418.3 1942.9,1391.5 1943.2,1414.9 1943.5,1427.6 1943.8,1410.1 1944.1,1413.8 1944.4,1408.6 1944.7,1421.0 1945.0,1405.0 1945.3,1426.4 1945.6,1419.3 1945.9,1452.6 1946.2,1431.7 1946.5,1420.7 1946.8,1431.5 1947.1,1429.7 1947.4,1430.2 1947.7,1422.6 1948.0,1417.3 1948.3,1417.7 1948.6,1415.3 1948.9,1425.2 1949.2,1434.7 1949.5,1448.6 1949.8,1433.4 1950.1,1439.6 1950.4,1453.7 1950.7,1411.8 1951.0,1455.7 1951.3,1428.2 1951.6,1426.7 1951.9,1437.3 1952.2,1405.1 1952.5,1436.1 1952.8,1447.3 1953.1,1417.1 1953.4,1450.2 1953.7,1460.4 1954.0,1455.8 1954.3,1452.2 1954.6,1444.4 1954.9,1442.0 1955.2,1469.6 1955.5,1444.8 1955.8,1422.4 1956.1,1462.5 1956.4,1455.7 1956.7,1445.6 1957.0,1439.9 1957.3,1467.0 1957.6,1472.4 1957.9,1473.9 1958.2,1444.2 1958.5,1447.3 1958.8,1494.2 1959.1,1494.2 1959.4,1479.6 1959.7,1484.1 1960.0,1455.3 1960.3,1458.4 1960.6,1435.0 1960.9,1451.1 1961.2,1461.3 1961.5,1447.1 1961.8,1478.4 1962.1,1487.5 1962.4,1466.0 1962.7,1453.7 1963.0,1494.5 1963.3,1456.2 1963.6,1457.7 1963.9,1479.4 1964.2,1470.1 1964.5,1478.2 1964.8,1473.9 1965.1,1464.1 1965.4,1490.9 1965.7,1463.3 1966.0,1467.2 1966.3,1468.0 1966.6,1518.6 1966.9,1518.3 1967.2,1475.4 1967.5,1497.8 1967.8,1513.8 1968.1,1503.2 1968.4,1514.6 1968.7,1496.2 1969.0,1504.3 1969.3,1503.5 1969.6,1484.3 1969.9,1513.6 1970.2,1474.3 1970.5,1534.5 1970.8,1421.5 1971.1,1517.9 1971.4,1484.0 1971.7,1479.2 1972.0,1495.0 1972.3,1483.2 1972.6,1498.4 1972.9,1530.6 1973.2,1486.9 1973.5,1479.9 1973.8,1509.9 1974.1,1533.1 1974.4,1512.3 1974.7,1496.1 1975.0,1496.9 1975.3,1483.6 1975.6,1492.9 1975.9,1493.8 1976.2,1541.9 1976.5,1435.3 1976.8,1501.6 1977.1,1487.6 1977.4,1508.7 1977.7,1505.3 1978.0,1501.8 1978.3,1476.7 1978.6,1478.2 1978.9,1493.8 1979.2,1472.4 1979.5,1514.1 1979.8,1498.8 1980.1,1518.1 1980.4,1488.2 1980.7,1511.8 1981.0,1496.3 1981.3,1485.0 1981.6,1560.9 1981.9,1479.9 1982.2,1513.0 1982.5,1526.3 1982.8,1562.1 1983.1,1527.5 1983.4,1572.9 1983.7,1520.7 1984.0,1526.3 1984.3,1490.0 1984.6,1530.4 1984.9,1504.0 1985.2,1502.8 1985.5,1487.8 1985.8,1531.2 1986.1,1512.0 1986.4,1560.8 1986.7,1552.1 1987.0,1534.5 1987.3,1530.0 1987.6,1556.5 1987.9,1548.4 1988.2,1516.9 1988.5,1540.8 1988.8,1534.7 1989.1,1550.9 1989.4,1505.0 1989.7,1497.9 1990.0,1527.7 1990.3,1534.2 1990.6,1499.7 1990.9,1521.7 1991.2,1545.2 1991.5,1560.2 1991.8,1542.3 1992.1,1488.5 1992.4,1540.8 1992.7,1475.9 1993.0,1526.8 1993.3,1535.0 1993.6,1500.2 1993.9,1529.5 1994.2,1516.6 1994.5,1545.5 1994.8,1549.8 1995.1,1538.5 1995.4,1518.9 1995.7,1537.1 1996.0,1567.0 1996.3,1514.7 1996.6,1527.6 1996.9,1530.4 1997.2,1537.8 1997.5,1576.6 1997.8,1496.2 1998.1,1536.5 1998.4,1516.7 1998.7,1501.1 1999.0,1506.4 1999.3,1524.7 1999.6,1529.2 1999.9,1523.9 2000.2,1512.8 2000.5,1519.8 2000.8,1541.6 2001.1,1523.7 2001.4,1525.8 2001.7,1520.2 2002.0,1530.8 2002.3,1508.7 2002.6,1532.5 2002.9,1519.6 2003.2,1537.8 2003.5,1552.7 2003.8,1562.8 2004.1,1546.2 2004.4,1532.8 2004.7,1519.7 2005.0,1550.0 2005.3,1562.2 2005.6,1564.2 2005.9,1526.7 2006.2,1554.5 2006.5,1571.6 2006.8,1544.8 2007.1,1599.0 2007.4,1563.8 2007.7,1570.1 2008.0,1574.6 2008.3,1604.6 2008.6,1551.4 2008.9,1537.4 2009.2,1615.5 2009.5,1576.2 2009.8,1564.0"/>
<path stroke="#0ff" stroke-width="9.6" d="M1164.4 599.0h.01 M1165.0 584.1h.01 M1165.5 569.2h.01 M1166.3 554.3h.01 M1167.1 539.5h.01 M1167.9 524.6h.01 M1171.3 510.5h.01 M1184.9 507.5h.01 M1195.6 513.8h.01 M1204.8 521.8h.01 M1213.4 530.0h.01 M1221.1 538.9h.01 M1229.0 547.5h.01 M1237.2 555.6h.01 M1245.2 563.8h.01 M1253.2 571.9h.01 M1261.0 579.9h.01 M1268.8 587.8h.01 M1276.5 595.6h.01 M1284.1 603.4h.01 M1291.8 610.9h.01 M1299.4 618.3h.01 M1306.9 625.6h.01 M1314.1 633.1h.01 M1321.2 640.5h.01 M1328.2 647.9h.01 M1335.2 655.2h.01 M1342.2 662.3h.01 M1349.2 669.3h.01 M1356.0 676.2h.01 M1362.8 683.0h.01 M1369.1 690.3h.01 M1375.4 697.3h.01 M1382.1 703.9h.01 M1388.6 710.5h.01 M1395.0 717.0h.01 M1401.3 723.5h.01 M1407.6 730.0h.01 M1413.7 736.4h.01 M1419.8 742.8h.01 M1425.8 749.1h.01 M1431.8 755.3h.01 M1437.6 761.5h.01 M1443.5 767.6h.01 M1449.1 773.7h.01 M1454.7 779.8h.01 M1460.2 785.9h.01 M1465.7 791.9h.01 M1471.1 797.8h.01 M1477.5 802.4h.01 M1483.1 807.8h.01 M1488.6 813.3h.01 M1494.0 818.7h.01"/>
<polyline stroke="#0ff" stroke-width="9.5" points="1490.0,813.5 1490.3,814.8 1490.6,814.8 1490.9,814.5 1491.2,816.2 1491.5,815.4 1491.8,816.0 1492.1,816.4 1492.4,816.6 1492.7,817.5 1493.0,818.3 1493.3,816.9 1493.6,818.1 1493.9,818.0 1494.2,817.7 1494.5,818.9 1494.8,819.1 1495.1,819.3 1495.4,819.3 1495.7,820.1 1496.0,820.0 1496.3,821.0 1496.6,821.4 1496.9,821.5 1497.2,821.7 1497.5,821.9 1497.8,821.6 1498.1,822.4 1498.4,823.1 1498.7,822.5 1499.0,823.6 1499.3,823.9 1499.6,824.1 1499.9,824.8 1500.2,825.4 1500.5,825.2 1500.8,825.8 1501.1,826.2 1501.4,826.0 1501.7,826.5 1502.0,826.9 1502.3,827.8 1502.6,827.3 1502.9,826.8 1503.2,827.4 1503.5,827.7 1503.8,828.5 1504.1,828.3 1504.4,829.7 1504.7,829.6 1505.0,829.4 1505.3,830.6 1505.6,830.3 1505.9,830.5 1506.2,830.1 1506.5,831.6 1506.8,831.4 1507.1,832.2 1507.4,832.4 1507.7,833.8 1508.0,833.3 1508.3,832.6 1508.6,833.2 1508.9,833.7 1509.2,832.9 1509.5,834.1 1509.8,835.3 1510.1,835.1 1510.4,835.4 1510.7,834.9 1511.0,836.4 1511.3,836.1 1511.6,836.1 1511.9,837.3 1512.2,837.2 1512.5,838.6 1512.8,837.9 1513.1,839.3 1513.4,838.8 1513.7,838.1 1514.0,839.1 1514.3,839.6 1514.6,839.9 1514.9,839.3 1515.2,840.4 1515.5,840.5 1515.8,841.6 1516.1,841.9 1516.4,842.6 1516.7,842.5 1517.0,843.1 1517.3,842.6 1517.6,843.1 1517.9,843.8 1518.2,844.3 1518.5,845.9 1518.8,845.0 1519.1,844.9 1519.4,845.0 1519.7,847.2 1520.0,847.2 1520.3,846.2 1520.6,847.1 1520.9,847.0 1521.2,847.4 1521.5,847.2 1521.8,848.7 1522.1,848.4 1522.4,847.9 1522.7,848.6 1523.0,849.4 1523.3,849.1 1523.6,849.5 1523.9,850.4 1524.2,849.9 1524.5,850.2 1524.8,851.0 1525.1,850.7 1525.4,852.2 1525.7,851.5 1526.0,852.3 1526.3,853.0 1526.6,853.2 1526.9,852.5 1527.2,853.8 1527.5,854.0 1527.8,854.8 1528.1,854.8 1528.4,853.6 1528.7,853.8 1529.0,854.5 1529.3,855.2 1529.6,855.4 1529.9,856.3 1530.2,856.6 1530.5,857.3 1530.8,856.1 1531.1,857.3 1531.4,857.8 1531.7,858.1 1532.0,857.9 1532.3,858.6 1532.6,858.5 1532.9,858.7 1533.2,858.4 1533.5,860.1 1533.8,859.6 1534.1,860.4 1534.4,860.6 1534.7,859.7 1535.0,860.5 1535.3,861.4 1535.6,861.2 1535.9,861.7 1536.2,861.4 1536.5,862.5 1536.8,862.2 1537.1,863.0 1537.4,863.0 1537.7,863.3 1538.0,863.9 1538.3,863.7 1538.6,863.4 1538.9,864.6 1539.2,864.7 1539.5,864.5 1539.8,865.4 1540.1,864.7 1540.4,865.0 1540.7,867.0 1541.0,866.3 1541.3,866.8 1541.6,865.9 1541.9,866.1 1542.2,867.7 1542.5,867.6 1542.8,867.5 1543.1,868.0 1543.4,867.6 1543.7,867.7 1544.0,868.2 1544.3,868.2 1544.6,868.6 1544.9,869.5 1545.2,870.0 1545.5,870.5 1545.8,869.8 1546.1,870.1 1546.4,870.3 1546.7,871.4 1547.0,871.8 1547.3,871.7 1547.6,870.6 1547.9,872.3 1548.2,872.7 1548.5,873.6 1548.8,873.2 1549.1,873.5 1549.4,874.7 1549.7,873.4 1550.0,875.4 1550.3,874.6 1550.6,875.7 1550.9,875.8 1551.2,876.7 1551.5,877.0 1551.8,876.5 1552.1,877.4 1552.4,877.9 1552.7,877.5 1553.0,877.9 1553.3,878.6 1553.6,878.9 1553.9,878.3 1554.2,879.9 1554.5,879.9 1554.8,880.2 1555.1,881.7 1555.4,882.4 1555.7,881.3 1556.0,881.2 1556.3,881.9 1556.6,882.7 1556.9,883.0 1557.2,882.4 1557.5,883.4 1557.8,884.5 1558.1,883.3 1558.4,883.9 1558.7,884.1 1559.0,883.9 1559.3,884.0 1559.6,884.8 1559.9,885.6 1560.2,887.2 1560.5,885.9 1560.8,886.6 1561.1,885.9 1561.4,886.2 1561.7,887.1 1562.0,886.8 1562.3,888.1 1562.6,888.4 1562.9,889.3 1563.2,889.2 1563.5,889.2 1563.8,889.0 1564.1,890.5 1564.4,889.8 1564.7,889.1 1565.0,892.0 1565.3,891.6 1565.6,891.7 1565.9,891.4 1566.2,891.0 1566.5,891.9 1566.8,893.1 1567.1,894.0 1567.4,893.8 1567.7,894.1 1568.0,894.2 1568.3,895.4 1568.6,894.0 1568.9,895.9 1569.2,895.2 1569.5,895.7 1569.8,897.1 1570.1,896.6 1570.4,897.0 1570.7,897.5 1571.0,897.1 1571.3,898.4 1571.6,896.5 1571.9,897.9 1572.2,899.7 1572.5,901.2 1572.8,898.8 1573.1,899.9 1573.4,900.3 1573.7,902.2 1574.0,902.1 1574.3,902.7 1574.6,899.7 1574.9,900.8 1575.2,902.7 1575.5,901.2 1575.8,905.7 1576.1,902.7 1576.4,903.1 1576.7,904.6 1577.0,904.6 1577.3,905.5 1577.6,905.0 1577.9,904.4 1578.2,905.0 1578.5,905.8 1578.8,905.6 1579.1,908.2 1579.4,905.6 1579.7,907.6 1580.0,908.9 1580.3,908.5 1580.6,909.5 1580.9,908.7 1581.2,908.8 1581.5,911.2 1581.8,908.7 1582.1,908.6 1582.4,911.1 1582.7,909.3 1583.0,909.8 1583.3,910.3 1583.6,910.1 1583.9,913.9 1584.2,911.4 1584.5,913.2 1584.8,910.7 1585.1,913.8 1585.4,914.4 1585.7,912.8 1586.0,913.6 1586.3,914.4 1586.6,914.7 1586.9,914.7 1587.2,914.2 1587.5,916.7 1587.8,917.0 1588.1,917.4 1588.4,917.4 1588.7,917.8 1589.0,919.4 1589.3,918.5 1589.6,920.2 1589.9,919.9 1590.2,920.2 1590.5,920.6 1590.8,919.6 1591.1,919.8 1591.4,920.7 1591.7,920.6 1592.0,922.6 1592.3,920.2 1592.6,923.0 1592.9,923.1 1593.2,923.3 1593.5,925.0 1593.8,924.7 1594.1,924.6 1594.4,924.4 1594.7,925.1 1595.0,926.0 1595.3,926.6 1595.6,925.8 1595.9,927.2 1596.2,927.5 1596.5,926.8 1596.8,926.9 1597.1,928.1 1597.4,929.2 1597.7,927.7 1598.0,927.5 1598.3,928.9 1598.6,929.1 1598.9,931.2 1599.2,928.5 1599.5,930.6 1599.8,929.2 1600.1,930.7 1600.4,930.5 1600.7,930.8 1601.0,932.5 1601.3,928.6 1601.6,934.3 1601.9,931.5 1602.2,932.6 1602.5,932.3 1602.8,931.1 1603.1,934.4 1603.4,933.0 1603.7,932.7 1604.0,933.4 1604.3,933.4 1604.6,934.8 1604.9,936.0 1605.2,936.0 1605.5,935.5 1605.8,934.8 1606.1,935.7 1606.4,934.6 1606.7,936.4 1607.0,936.6 1607.3,936.9 1607.6,939.1 1607.9,937.2 1608.2,939.1 1608.5,938.7 1608.8,936.3 1609.1,940.0 1609.4,939.0 1609.7,938.8 1610.0,939.6 1610.3,940.0 1610.6,940.8 1610.9,938.6 1611.2,942.8 1611.5,942.1 1611.8,940.0 1612.1,941.2 1612.4,942.8 1612.7,943.2 1613.0,942.9 1613.3,940.4 1613.6,942.8 1613.9,944.6 1614.2,943.6 1614.5,944.8 1614.8,943.0 1615.1,944.4 1615.4,943.8 1615.7,945.1 1616.0,943.6 1616.3,945.4 1616.6,945.8 1616.9,947.4 1617.2,947.1 1617.5,946.1 1617.8,947.7 1618.1,945.0 1618.4,947.7 1618.7,948.8 1619.0,947.3 1619.3,949.2 1619.6,948.5 1619.9,949.4 1620.2,950.4 1620.5,948.6 1620.8,950.3 1621.1,949.6 1621.4,951.4 1621.7,952.9 1622.0,953.1 1622.3,952.8 1622.6,952.8 1622.9,953.0 1623.2,952.9 1623.5,955.1 1623.8,953.9 1624.1,955.8 1624.4,955.5 1624.7,952.5 1625.0,954.2 1625.3,956.2 1625.6,954.3 1625.9,955.0 1626.2,955.8 1626.5,955.5 1626.8,957.6 1627.1,957.8 1627.4,958.8 1627.7,957.6 1628.0,959.8 1628.3,959.3 1628.6,958.5 1628.9,959.8 1629.2,959.1 1629.5,957.8 1629.8,961.0 1630.1,958.7 1630.4,961.2 1630.7,961.7 1631.0,960.7 1631.3,960.0 1631.6,962.2 1631.9,962.4 1632.2,962.3 1632.5,962.9 1632.8,962.2 1633.1,963.4 1633.4,963.2 1633.7,962.5 1634.0,964.0 1634.3,962.7 1634.6,965.0 1634.9,965.5 1635.2,962.8 1635.5,963.7 1635.8,965.7 1636.1,965.2 1636.4,966.2 1636.7,967.5 1637.0,966.6 1637.3,967.3 1637.6,966.6 1637.9,970.5 1638.2,967.9 1638.5,969.0 1638.8,970.3 1639.1,970.8 1639.4,970.6 1639.7,972.0 1640.0,971.4 1640.3,970.2 1640.6,973.1 1640.9,972.1 1641.2,974.7 1641.5,972.9 1641.8,972.0 1642.1,972.8 1642.4,972.9 1642.7,974.5 1643.0,972.8 1643.3,974.7 1643.6,972.9 1643.9,973.9 1644.2,974.8 1644.5,972.9 1644.8,975.3 1645.1,973.9 1645.4,975.3 1645.7,975.7 1646.0,974.8 1646.3,975.8 1646.6,976.6 1646.9,977.1 1647.2,977.1 1647.5,977.6 1647.8,978.5 1648.1,979.7 1648.4,982.0 1648.7,979.4 1649.0,980.0 1649.3,977.2 1649.6,979.9 1649.9,979.4 1650.2,979.1 1650.5,981.6 1650.8,982.8 1651.1,981.1 1651.4,983.0 1651.7,982.9 1652.0,981.1 1652.3,982.4 1652.6,982.0 1652.9,985.2 1653.2,983.8 1653.5,982.8 1653.8,986.0 1654.1,984.4 1654.4,984.5 1654.7,988.1 1655.0,983.7 1655.3,986.8 1655.6,986.5 1655.9,984.6 1656.2,989.2 1656.5,986.8 1656.8,988.3 1657.1,988.1 1657.4,989.6 1657.7,987.2 1658.0,992.2 1658.3,989.3 1658.6,989.5 1658.9,990.7 1659.2,991.4 1659.5,991.8 1659.8,990.6 1660.1,991.8 1660.4,992.9 1660.7,994.6 1661.0,993.4 1661.3,993.3 1661.6,994.4 1661.9,992.9 1662.2,997.6 1662.5,992.3 1662.8,996.1 1663.1,997.7 1663.4,998.8 1663.7,995.7 1664.0,996.5 1664.3,997.8 1664.6,997.9 1664.9,997.9 1665.2,999.0 1665.5,997.3 1665.8,998.3 1666.1,999.6 1666.4,1001.9 1666.7,998.2 1667.0,1001.0 1667.3,1002.0 1667.6,999.3 1667.9,1000.6 1668.2,1004.3 1668.5,1004.1 1668.8,1002.7 1669.1,1004.2 1669.4,1003.1 1669.7,999.7 1670.0,999.6 1670.3,1004.0 1670.6,1003.3 1670.9,1003.6 1671.2,1005.3 1671.5,1007.6 1671.8,1004.6 1672.1,1006.7 1672.4,1006.3 1672.7,1006.5 1673.0,1009.0 1673.3,1006.0 1673.6,1008.7 1673.9,1009.0 1674.2,1010.3 1674.5,1009.1 1674.8,1009.1 1675.1,1011.7 1675.4,1010.5 1675.7,1012.3 1676.0,1013.8 1676.3,1012.9 1676.6,1012.0 1676.9,1012.5 1677.2,1012.1 1677.5,1015.0 1677.8,1014.9 1678.1,1014.8 1678.4,1014.5 1678.7,1016.0 1679.0,1017.7 1679.3,1019.0 1679.6,1015.6 1679.9,1016.2 1680.2,1019.2 1680.5,1016.6 1680.8,1019.3 1681.1,1019.0 1681.4,1018.3 1681.7,1021.2 1682.0,1022.1 1682.3,1023.9 1682.6,1021.2 1682.9,1021.3 1683.2,1021.0 1683.5,1021.7 1683.8,1022.7 1684.1,1021.4 1684.4,1024.9 1684.7,1023.0 1685.0,1023.1 1685.3,1024.3 1685.6,1021.7 1685.9,1023.9 1686.2,1022.7 1686.5,1023.6 1686.8,1025.5 1687.1,1022.5 1687.4,1024.0 1687.7,1025.9 1688.0,1026.4 1688.3,1028.0 1688.6,1027.0 1688.9,1027.4 1689.2,1027.0 1689.5,1028.3 1689.8,1027.1 1690.1,1028.4 1690.4,1031.0 1690.7,1029.7 1691.0,1030.6 1691.3,1031.5 1691.6,1030.3 1691.9,1028.8 1692.2,1032.3 1692.5,1034.0 1692.8,1031.5 1693.1,1026.9 1693.4,1032.8 1693.7,1031.8 1694.0,1033.2 1694.3,1031.5 1694.6,1031.0 1694.9,1033.8 1695.2,1032.1 1695.5,1036.0 1695.8,1034.0 1696.1,1037.1 1696.4,1035.1 1696.7,1036.7 1697.0,1035.7 1697.3,1038.2 1697.6,1036.4 1697.9,1036.9 1698.2,1038.3 1698.5,1039.0 1698.8,1040.0 1699.1,1039.0 1699.4,1038.0 1699.7,1039.2 1700.0,1039.0 1700.3,1037.5 1700.6,1040.4 1700.9,1039.2 1701.2,1039.2 1701.5,1040.1 1701.8,1040.7 1702.1,1041.6 1702.4,1038.9 1702.7,1042.6 1703.0,1043.5 1703.3,1042.3 1703.6,1038.3 1703.9,1041.7 1704.2,1044.4 1704.5,1043.4 1704.8,1044.3 1705.1,1045.3 1705.4,1044.6 1705.7,1044.9 1706.0,1046.0 1706.3,1043.6 1706.6,1047.3 1706.9,1042.2 1707.2,1043.6 1707.5,1043.7 1707.8,1047.1 1708.1,1048.1 1708.4,1053.5 1708.7,1048.4 1709.0,1044.4 1709.3,1051.6 1709.6,1051.9 1709.9,1048.1 1710.2,1048.9 1710.5,1053.5 1710.8,1050.8 1711.1,1050.5 1711.4,1054.2 1711.7,1050.3 1712.0,1054.6 1712.3,1050.7 1712.6,1052.7 1712.9,1054.6 1713.2,1056.5 1713.5,1054.5 1713.8,1054.3 1714.1,1054.6 1714.4,1055.5 1714.7,1055.0 1715.0,1053.3 1715.3,1056.5 1715.6,1055.4 1715.9,1054.3 1716.2,1055.3 1716.5,1053.9 1716.8,1052.8 1717.1,1056.4 1717.4,1055.6 1717.7,1061.4 1718.0,1057.0 1718.3,1055.5 1718.6,1059.0 1718.9,1054.9 1719.2,1061.0 1719.5,1055.5 1719.8,1059.2 1720.1,1060.5 1720.4,1059.8 1720.7,1059.8 1721.0,1061.5 1721.3,1062.5 1721.6,1061.3 1721.9,1059.0 1722.2,1060.3 1722.5,1059.0 1722.8,1062.9 1723.1,1062.7 1723.4,1063.0 1723.7,1062.5 1724.0,1062.3 1724.3,1060.3 1724.6,1062.6 1724.9,1064.0 1725.2,1062.2 1725.5,1066.5 1725.8,1068.0 1726.1,1064.8 1726.4,1066.2 1726.7,1066.8 1727.0,1065.8 1727.3,1068.7 1727.6,1068.9 1727.9,1068.5 1728.2,1068.6 1728.5,1068.5 1728.8,1070.8 1729.1,1071.1 1729.4,1076.9 1729.7,1070.4 1730.0,1076.3 1730.3,1073.9 1730.6,1069.4 1730.9,1075.4 1731.2,1078.4 1731.5,1069.4 1731.8,1077.2 1732.1,1076.8 1732.4,1077.1 1732.7,1075.7 1733.0,1076.0 1733.3,1078.1 1733.6,1076.0 1733.9,1080.3 1734.2,1077.5 1734.5,1080.4 1734.8,1078.1 1735.1,1081.1 1735.4,1081.0 1735.7,1077.5 1736.0,1083.1 1736.3,1083.6 1736.6,1080.4 1736.9,1082.5 1737.2,1083.2 1737.5,1082.9 1737.8,1078.7 1738.1,1085.4 1738.4,1084.1 1738.7,1083.5 1739.0,1086.0 1739.3,1084.4 1739.6,1083.5 1739.9,1086.5 1740.2,1082.5 1740.5,1087.3 1740.8,1085.3 1741.1,1084.4 1741.4,1078.8 1741.7,1088.9 1742.0,1084.9 1742.3,1080.4 1742.6,1087.0 1742.9,1083.7 1743.2,1085.7 1743.5,1089.3 1743.8,1085.8 1744.1,1088.8 1744.4,1087.1 1744.7,1090.7 1745.0,1086.5 1745.3,1093.5 1745.6,1089.1 1745.9,1086.5 1746.2,1088.6 1746.5,1090.8 1746.8,1091.0 1747.1,1091.8 1747.4,1085.6 1747.7,1091.7 1748.0,1092.0 1748.3,1093.8 1748.6,1093.5 1748.9,1091.5 1749.2,1094.3 1749.5,1094.9 1749.8,1094.5 1750.1,1094.2 1750.4,1093.1 1750.7,1094.6 1751.0,1094.1 1751.3,1095.3 1751.6,1091.1 1751.9,1093.6 1752.2,1094.6 1752.5,1093.4 1752.8,1094.2 1753.1,1097.6 1753.4,1094.8 1753.7,1091.0 1754.0,1093.7 1754.3,1092.5 1754.6,1096.8 1754.9,1099.0 1755.2,1097.6 1755.5,1093.6 1755.8,1099.2 1756.1,1099.2 1756.4,1095.6 1756.7,1099.1 1757.0,1099.5 1757.3,1098.7 1757.6,1099.9 1757.9,1101.3 1758.2,1100.6 1758.5,1103.2 1758.8,1102.2 1759.1,1101.1 1759.4,1105.5 1759.7,1104.0 1760.0,1106.6 1760.3,1102.8 1760.6,1103.5 1760.9,1103.3 1761.2,1103.5 1761.5,1104.0 1761.8,1105.2 1762.1,1109.2 1762.4,1105.8 1762.7,1110.6 1763.0,1103.6 1763.3,1108.8 1763.6,1108.7 1763.9,1113.5 1764.2,1108.6 1764.5,1108.9 1764.8,1115.9 1765.1,1113.9 1765.4,1114.2 1765.7,1115.1 1766.0,1110.8 1766.3,1109.4 1766.6,1117.5 1766.9,1112.9 1767.2,1116.5 1767.5,1113.0 1767.8,1122.8 1768.1,1118.3 1768.4,1114.8 1768.7,1120.0 1769.0,1115.8 1769.3,1120.4 1769.6,1116.8 1769.9,1118.6 1770.2,1121.5 1770.5,1122.8 1770.8,1121.7 1771.1,1118.8 1771.4,1122.1 1771.7,1124.1 1772.0,1114.6 1772.3,1127.0 1772.6,1123.9 1772.9,1122.2 1773.2,1126.4 1773.5,1124.1 1773.8,1125.3 1774.1,1128.2 1774.4,1123.6 1774.7,1127.8 1775.0,1127.1 1775.3,1122.3 1775.6,1128.6 1775.9,1124.5 1776.2,1123.4 1776.5,1124.2 1776.8,1125.9 1777.1,1128.1 1777.4,1131.5 1777.7,1127.9 1778.0,1127.5 1778.3,1130.4 1778.6,1134.6 1778.9,1127.5 1779.2,1132.8 1779.5,1129.2 1779.8,1131.9 1780.1,1135.3 1780.4,1126.9 1780.7,1129.7 1781.0,1130.0 1781.3,1135.3 1781.6,1132.1 1781.9,1131.3 1782.2,1134.2 1782.5,1128.2 1782.8,1138.1 1783.1,1131.2 1783.4,1138.5 1783.7,1138.0 1784.0,1137.7 1784.3,1133.3 1784.6,1137.2 1784.9,1137.6 1785.2,1138.8 1785.5,1141.0 1785.8,1139.9 1786.1,1140.8 1786.4,1139.5 1786.7,1140.2 1787.0,1146.3 1787.3,1141.8 1787.6,1137.2 1787.9,1142.2 1788.2,1141.4 1788.5,1143.5 1788.8,1143.7 1789.1,1142.3 1789.4,1146.1 1789.7,1143.0 1790.0,1147.5 1790.3,1142.1 1790.6,1147.7 1790.9,1141.7 1791.2,1138.4 1791.5,1148.6 1791.8,1142.5 1792.1,1145.8 1792.4,1141.8 1792.7,1146.8 1793.0,1146.5 1793.3,1146.9 1793.6,1143.0 1793.9,1152.5 1794.2,1145.2 1794.5,1147.6 1794.8,1149.7 1795.1,1149.5 1795.4,1144.3 1795.7,1147.4 1796.0,1145.5 1796.3,1152.7 1796.6,1156.9 1796.9,1153.5 1797.2,1153.0 1797.5,1154.3 1797.8,1150.0 1798.1,1147.4 1798.4,1153.4 1798.7,1166.0 1799.0,1152.3 1799.3,1157.6 1799.6,1155.9 1799.9,1153.9 1800.2,1155.5 1800.5,1157.1 1800.8,1156.2 1801.1,1155.0 1801.4,1155.6 1801.7,1151.5 1802.0,1166.9 1802.3,1160.3 1802.6,1159.9 1802.9,1155.9 1803.2,1158.0 1803.5,1156.4 1803.8,1163.5 1804.1,1160.2 1804.4,1157.9 1804.7,1160.4 1805.0,1161.8 1805.3,1160.2 1805.6,1156.5 1805.9,1168.4 1806.2,1157.4 1806.5,1161.7 1806.8,1165.6 1807.1,1161.2 1807.4,1163.4 1807.7,1160.1 1808.0,1166.5 1808.3,1161.2 1808.6,1167.1 1808.9,1162.8 1809.2,1162.4 1809.5,1164.9 1809.8,1162.8 1810.1,1166.8 1810.4,1161.8 1810.7,1166.9 1811.0,1167.7 1811.3,1166.2 1811.6,1166.2 1811.9,1169.0 1812.2,1164.3 1812.5,1167.5 1812.8,1165.6 1813.1,1172.7 1813.4,1172.5 1813.7,1169.6 1814.0,1172.4 1814.3,1170.1 1814.6,1168.3 1814.9,1167.0 1815.2,1166.3 1815.5,1168.8 1815.8,1174.0 1816.1,1170.3 1816.4,1174.2 1816.7,1171.1 1817.0,1176.6 1817.3,1169.1 1817.6,1172.4 1817.9,1175.0 1818.2,1178.8 1818.5,1173.7 1818.8,1176.6 1819.1,1174.3 1819.4,1177.6 1819.7,1177.3 1820.0,1173.7 1820.3,1171.2 1820.6,1180.4 1820.9,1177.1 1821.2,1175.4 1821.5,1177.4 1821.8,1178.6 1822.1,1170.5 1822.4,1180.6 1822.7,1177.0 1823.0,1180.2 1823.3,1179.3 1823.6,1187.2 1823.9,1177.0 1824.2,1181.1 1824.5,1184.2 1824.8,1175.8 1825.1,1182.8 1825.4,1184.5 1825.7,1185.8 1826.0,1179.8 1826.3,1183.9 1826.6,1185.6 1826.9,1189.7 1827.2,1188.8 1827.5,1185.1 1827.8,1187.0 1828.1,1194.8 1828.4,1194.9 1828.7,1188.2 1829.0,1180.5 1829.3,1193.1 1829.6,1199.2 1829.9,1189.1 1830.2,1194.2 1830.5,1197.9 1830.8,1191.7 1831.1,1195.1 1831.4,1198.3 1831.7,1200.0 1832.0,1196.1 1832.3,1195.7 1832.6,1202.9 1832.9,1193.2 1833.2,1201.7 1833.5,1192.3 1833.8,1196.5 1834.1,1198.8 1834.4,1197.3 1834.7,1201.1 1835.0,1199.7 1835.3,1193.9 1835.6,1202.6 1835.9,1198.1 1836.2,1205.1 1836.5,1202.5 1836.8,1199.6 1837.1,1208.5 1837.4,1203.4 1837.7,1213.7 1838.0,1210.5 1838.3,1208.4 1838.6,1204.1 1838.9,1205.4 1839.2,1212.3 1839.5,1209.8 1839.8,1209.1 1840.1,1216.5 1840.4,1209.0 1840.7,1205.8 1841.0,1206.5 1841.3,1213.9 1841.6,1213.4 1841.9,1215.7 1842.2,1214.1 1842.5,1214.7 1842.8,1209.8 1843.1,1212.3 1843.4,1220.6 1843.7,1209.6 1844.0,1209.5 1844.3,1215.5 1844.6,1214.1 1844.9,1213.6 1845.2,1219.9 1845.5,1212.8 1845.8,1210.8 1846.1,1205.9 1846.4,1212.9 1846.7,1214.9 1847.0,1214.5 1847.3,1211.6 1847.6,1211.1 1847.9,1217.9 1848.2,1213.9 1848.5,1212.3 1848.8,1223.4 1849.1,1205.1 1849.4,1216.6 1849.7,1212.6 1850.0,1216.6 1850.3,1217.7 1850.6,1217.3 1850.9,1216.1 1851.2,1214.0 1851.5,1218.8 1851.8,1222.5 1852.1,1220.9 1852.4,1222.3 1852.7,1215.3 1853.0,1222.6 1853.3,1212.6 1853.6,1218.4 1853.9,1219.5 1854.2,1214.1 1854.5,1221.2 1854.8,1221.3 1855.1,1214.4 1855.4,1217.7 1855.7,1225.5 1856.0,1211.7 1856.3,1220.0 1856.6,1228.4 1856.9,1224.3 1857.2,1220.3 1857.5,1224.1 1857.8,1222.1 1858.1,1216.5 1858.4,1223.3 1858.7,1219.5 1859.0,1226.0 1859.3,1232.8 1859.6,1224.0 1859.9,1234.6 1860.2,1228.0 1860.5,1230.0 1860.8,1237.5 1861.1,1237.5 1861.4,1235.7 1861.7,1233.6 1862.0,1229.9 1862.3,1236.0 1862.6,1228.2 1862.9,1233.2 1863.2,1240.5 1863.5,1240.8 1863.8,1237.8 1864.1,1241.0 1864.4,1239.4 1864.7,1235.7 1865.0,1237.6 1865.3,1235.7 1865.6,1244.1 1865.9,1245.5 1866.2,1248.8 1866.5,1251.4 1866.8,1245.5 1867.1,1243.7 1867.4,1245.8 1867.7,1245.6 1868.0,1236.6 1868.3,1252.7 1868.6,1249.4 1868.9,1251.4 1869.2,1254.3 1869.5,1243.8 1869.8,1251.5 1870.1,1245.8 1870.4,1258.6 1870.7,1244.1 1871.0,1242.8 1871.3,1259.3 1871.6,1255.4 1871.9,1256.6 1872.2,1253.5 1872.5,1263.9 1872.8,1254.9 1873.1,1254.0 1873.4,1261.3 1873.7,1270.8 1874.0,1262.4 1874.3,1261.1 1874.6,1255.1 1874.9,1262.6 1875.2,1265.7 1875.5,1256.2 1875.8,1257.6 1876.1,1255.7 1876.4,1259.3 1876.7,1254.0 1877.0,1256.8 1877.3,1269.4 1877.6,1258.5 1877.9,1255.4 1878.2,1259.3 1878.5,1251.8 1878.8,1262.1 1879.1,1256.0 1879.4,1266.7 1879.7,1260.1 1880.0,1263.3 1880.3,1266.2 1880.6,1268.3 1880.9,1260.3 1881.2,1259.7 1881.5,1266.3 1881.8,1270.4 1882.1,1269.1 1882.4,1260.8 1882.7,1272.7 1883.0,1260.3 1883.3,1277.3 1883.6,1266.9 1883.9,1265.5 1884.2,1263.2 1884.5,1273.4 1884.8,1276.1 1885.1,1280.8 1885.4,1267.6 1885.7,1274.2 1886.0,1276.8 1886.3,1277.1 1886.6,1273.6 1886.9,1275.4 1887.2,1262.5 1887.5,1290.1 1887.8,1272.3 1888.1,1281.3 1888.4,1279.3 1888.7,1281.5 1889.0,1280.9 1889.3,1276.6 1889.6,1280.6 1889.9,1292.0 1890.2,1283.9 1890.5,1284.8 1890.8,1282.4 1891.1,1285.0 1891.4,1286.2 1891.7,1279.5 1892.0,1293.2 1892.3,1272.8 1892.6,1290.0 1892.9,1293.1 1893.2,1281.5 1893.5,1279.7 1893.8,1278.8 1894.1,1277.7 1894.4,1284.1 1894.7,1287.2 1895.0,1285.7 1895.3,1288.9 1895.6,1293.2 1895.9,1280.2 1896.2,1279.8 1896.5,1292.6 1896.8,1295.3 1897.1,1298.3 1897.4,1308.0 1897.7,1302.2 1898.0,1302.3 1898.3,1300.1 1898.6,1308.3 1898.9,1330.9 1899.2,1298.8 1899.5,1292.5 1899.8,1321.1 1900.1,1307.2 1900.4,1300.9 1900.7,1316.3 1901.0,1319.0 1901.3,1308.7 1901.6,1311.2 1901.9,1319.5 1902.2,1298.6 1902.5,1300.0 1902.8,1306.4 1903.1,1312.1 1903.4,1314.4 1903.7,1305.9 1904.0,1314.6 1904.3,1302.4 1904.6,1304.6 1904.9,1318.9 1905.2,1309.2 1905.5,1303.9 1905.8,1311.2 1906.1,1324.2 1906.4,1319.6 1906.7,1320.9 1907.0,1317.0 1907.3,1319.5 1907.6,1323.3 1907.9,1314.6 1908.2,1311.5 1908.5,1327.2 1908.8,1335.4 1909.1,1321.0 1909.4,1324.5 1909.7,1321.7 1910.0,1331.2 1910.3,1323.8 1910.6,1334.2 1910.9,1318.4 1911.2,1314.3 1911.5,1335.9 1911.8,1351.3 1912.1,1333.3 1912.4,1334.1 1912.7,1328.6 1913.0,1330.6 1913.3,1327.1 1913.6,1310.1 1913.9,1337.0 1914.2,1335.9 1914.5,1329.5 1914.8,1349.8 1915.1,1327.2 1915.4,1339.4 1915.7,1346.8 1916.0,1341.6 1916.3,1329.9 1916.6,1327.0 1916.9,1323.5 1917.2,1329.9 1917.5,1339.6 1917.8,1328.3 1918.1,1333.3 1918.4,1313.1 1918.7,1350.2 1919.0,1318.2 1919.3,1324.8 1919.6,1327.6 1919.9,1331.7 1920.2,1335.7 1920.5,1339.3 1920.8,1344.8 1921.1,1314.5 1921.4,1323.7 1921.7,1326.2 1922.0,1329.3 1922.3,1350.2 1922.6,1335.9 1922.9,1333.1 1923.2,1325.0 1923.5,1344.7 1923.8,1334.2 1924.1,1339.7 1924.4,1338.4 1924.7,1346.9 1925.0,1337.8 1925.3,1341.6 1925.6,1361.7 1925.9,1334.3 1926.2,1327.3 1926.5,1356.8 1926.8,1339.3 1927.1,1361.1 1927.4,1358.3 1927.7,1338.2 1928.0,1354.1 1928.3,1343.0 1928.6,1355.9 1928.9,1350.1 1929.2,1362.7 1929.5,1348.0 1929.8,1345.5 1930.1,1356.8 1930.4,1370.2 1930.7,1368.7 1931.0,1375.3 1931.3,1359.5 1931.6,1360.6 1931.9,1379.7 1932.2,1356.8 1932.5,1372.2 1932.8,1348.0 1933.1,1357.5 1933.4,1349.8 1933.7,1373.0 1934.0,1375.9 1934.3,1384.9 1934.6,1358.4 1934.9,1376.9 1935.2,1351.4 1935.5,1360.6 1935.8,1357.4 1936.1,1379.2 1936.4,1372.0 1936.7,1364.3 1937.0,1350.5 1937.3,1381.3 1937.6,1364.3 1937.9,1377.4 1938.2,1360.6 1938.5,1372.0 1938.8,1373.3 1939.1,1366.0 1939.4,1359.0 1939.7,1375.2 1940.0,1359.1 1940.3,1383.4 1940.6,1369.6 1940.9,1385.6 1941.2,1371.2 1941.5,1384.3 1941.8,1374.3 1942.1,1368.6 1942.4,1387.1 1942.7,1397.5 1943.0,1379.9 1943.3,1373.2 1943.6,1377.5 1943.9,1391.8 1944.2,1373.0 1944.5,1386.9 1944.8,1375.9 1945.1,1396.3 1945.4,1381.7 1945.7,1374.4 1946.0,1396.8 1946.3,1393.2 1946.6,1383.4 1946.9,1385.4 1947.2,1388.4 1947.5,1395.2 1947.8,1414.9 1948.1,1396.2 1948.4,1414.2 1948.7,1398.1 1949.0,1432.6 1949.3,1385.1 1949.6,1381.5 1949.9,1400.9 1950.2,1420.1 1950.5,1414.9 1950.8,1401.4 1951.1,1406.3 1951.4,1426.7 1951.7,1402.8 1952.0,1410.6 1952.3,1414.5 1952.6,1428.1 1952.9,1424.1 1953.2,1435.2 1953.5,1422.8 1953.8,1443.7 1954.1,1409.9 1954.4,1425.6 1954.7,1423.2 1955.0,1421.6 1955.3,1421.7 1955.6,1447.9 1955.9,1408.6 1956.2,1425.0 1956.5,1434.6 1956.8,1441.2 1957.1,1436.9 1957.4,1436.0 1957.7,1424.9 1958.0,1439.9 1958.3,1425.4 1958.6,1424.8 1958.9,1437.1 1959.2,1396.7 1959.5,1428.1 1959.8,1421.3 1960.1,1424.3 1960.4,1428.1 1960.7,1416.2 1961.0,1387.9 1961.3,1427.2 1961.6,1439.5 1961.9,1419.4 1962.2,1462.2 1962.5,1426.7 1962.8,1433.0 1963.1,1426.7 1963.4,1456.9 1963.7,1441.2 1964.0,1452.4 1964.3,1446.4 1964.6,1430.9 1964.9,1444.8 1965.2,1453.2 1965.5,1427.5 1965.8,1447.1 1966.1,1484.8 1966.4,1468.7 1966.7,1446.0 1967.0,1447.0 1967.3,1451.9 1967.6,1452.4 1967.9,1473.5 1968.2,1460.3 1968.5,1480.4 1968.8,1474.4 1969.1,1476.0 1969.4,1474.8 1969.7,1465.9 1970.0,1463.7 1970.3,1473.6 1970.6,1441.7 1970.9,1466.8 1971.2,1434.3 1971.5,1442.4 1971.8,1480.1 1972.1,1444.3 1972.4,1484.2 1972.7,1436.5 1973.0,1454.9 1973.3,1479.2 1973.6,1504.3 1973.9,1471.3 1974.2,1491.1 1974.5,1449.5 1974.8,1493.6 1975.1,1476.6 1975.4,1466.0 1975.7,1477.0 1976.0,1474.8 1976.3,1486.6 1976.6,1470.7 1976.9,1504.7 1977.2,1476.9 1977.5,1513.9 1977.8,1486.6 1978.1,1514.3 1978.4,1495.0 1978.7,1479.7 1979.0,1467.6 1979.3,1528.4 1979.6,1504.4 1979.9,1507.6 1980.2,1464.5 1980.5,1502.7 1980.8,1471.2 1981.1,1493.0 1981.4,1511.1 1981.7,1479.0 1982.0,1502.8 1982.3,1454.3 1982.6,1464.7 1982.9,1456.0 1983.2,1499.4 1983.5,1452.4 1983.8,1463.1 1984.1,1517.8 1984.4,1443.8 1984.7,1453.2 1985.0,1504.6 1985.3,1478.7 1985.6,1513.6 1985.9,1489.9 1986.2,1484.9 1986.5,1478.0 1986.8,1508.0 1987.1,1493.1 1987.4,1513.5 1987.7,1481.0 1988.0,1484.3 1988.3,1497.7 1988.6,1458.5 1988.9,1487.9 1989.2,1497.6 1989.5,1484.1 1989.8,1538.5 1990.1,1513.0 1990.4,1557.8 1990.7,1517.3 1991.0,1529.9 1991.3,1503.1 1991.6,1533.4 1991.9,1540.1 1992.2,1528.4 1992.5,1530.5 1992.8,1516.4 1993.1,1550.5 1993.4,1567.9 1993.7,1570.5 1994.0,1503.2 1994.3,1560.4 1994.6,1538.9 1994.9,1554.8 1995.2,1506.9 1995.5,1539.5 1995.8,1498.8 1996.1,1542.5 1996.4,1518.8 1996.7,1509.1 1997.0,1505.4 1997.3,1558.1 1997.6,1538.3 1997.9,1533.1 1998.2,1582.7 1998.5,1518.6 1998.8,1528.2 1999.1,1527.6 1999.4,1580.6 1999.7,1539.7 2000.0,1535.4 2000.3,1523.0 2000.6,1563.7 2000.9,1533.7"/>
<line stroke="#0f0" stroke-width="9" stroke-dasharray="28.4 39.35" x1="1057.9" y1="257.2" x2="1995.5" y2="1354.2"/>
</g>
<line x1="1427" y1="632.6" x2="1508" y2="632.6" stroke="#000" stroke-width="4"/>
<polygon points="1504,622.4 1546,632.6 1504,642.8" fill="#000"/>
<rect x="314" y="1028" width="1082.3" height="488.5" fill="none" stroke="#000" stroke-width="4"/>
<g fill="none" stroke-linecap="round">
<line x1="326.5" y1="1081.4" x2="499.8" y2="1081.4" stroke="#000" stroke-width="9"/>
<line x1="326.5" y1="1177.3" x2="495" y2="1177.3" stroke="#f00" stroke-width="9" stroke-dasharray="28 39.3"/>
<line x1="326.8" y1="1272.3" x2="495" y2="1272.3" stroke="#00f" stroke-width="9.5" stroke-dasharray="4 36.2"/>
<line x1="326.8" y1="1368" x2="495" y2="1368" stroke="#0ff" stroke-width="9.5" stroke-dasharray="0.5 14.4"/>
<line x1="326.5" y1="1463.4" x2="495" y2="1463.4" stroke="#0f0" stroke-width="9" stroke-dasharray="28 39.3"/>
</g>
<text class="s" x="314" y="992.6" font-size="80">Initial heights:</text>
<text class="s" x="521" y="1108.4" font-size="77.0">0.2 mm</text>
<text class="s" x="521" y="1203.7" font-size="77.0">0.4 mm</text>
<text class="s" x="521" y="1299.0" font-size="77.0">0.8 mm</text>
<text class="s" x="565" y="1394.3" font-size="77.0">1 mm</text>
<text class="s" x="521" y="1489.6" font-size="77.0">Theory for lubricated flow</text>
<text class="s" x="104.9" y="126.4" font-size="96">10<tspan font-size="57" dy="-46.6">1</tspan></text>
<text class="s" x="104.9" y="609.0" font-size="96">10<tspan font-size="57" dy="-46.6">0</tspan></text>
<text class="s" x="86.2" y="1091.6" font-size="96">10<tspan font-size="57" dy="-46.6">-1</tspan></text>
<text class="s" x="86.2" y="1574.1" font-size="96">10<tspan font-size="57" dy="-46.6">-2</tspan></text>
<text class="s" x="1091.3" y="1677.5" font-size="96">10<tspan font-size="57" dy="-46.6">0</tspan></text>
<text class="s" x="2143.3" y="1677.5" font-size="96">10<tspan font-size="57" dy="-46.6">1</tspan></text>
<text class="t i" font-size="100" transform="translate(20.66,257.80) scale(1.1239,1.0347)">F</text>
<text class="t" font-size="100" transform="translate(109.83,256.81) scale(1.0145,0.9915)">(N)</text>
<text class="t i" font-size="100" transform="translate(1797.96,1682.40) scale(1.0697,1.0155)">h</text>
<text class="t" font-size="100" transform="translate(1877.18,1680.71) scale(0.9999,0.9915)">(mm)</text>
<text class="t" style="font-family:&quot;DejaVu Sans&quot;,serif" font-size="100" transform="translate(1573.79,659.23) scale(1.2703,0.7526)">∝</text>
<text class="t i" font-size="100" transform="translate(1679.86,665.00) scale(1.0994,1.0524)">h</text>
<text class="t" font-size="100" transform="translate(1738.96,619.28) scale(0.6485,0.5280)">−</text>
<text class="t i" font-size="100" transform="translate(1772.80,615.87) scale(0.5428,0.5978)">2.5</text>
</svg></body></html>
